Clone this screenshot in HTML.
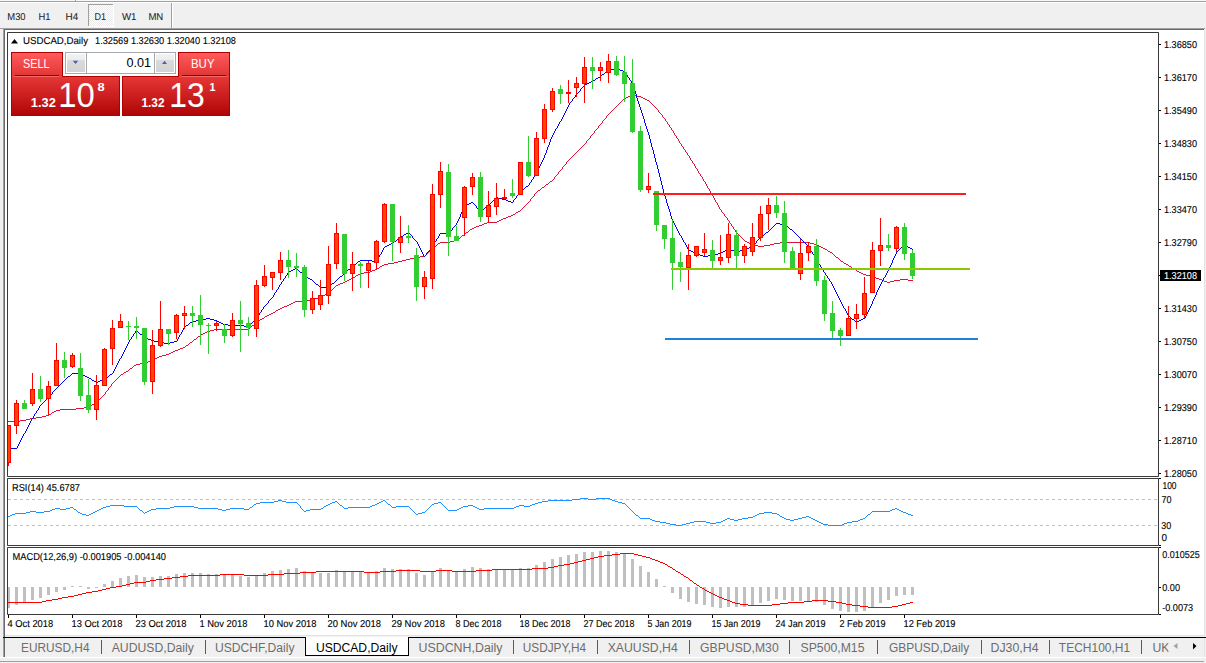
<!DOCTYPE html>
<html><head><meta charset="utf-8"><title>USDCAD,Daily</title>
<style>html,body{margin:0;padding:0;width:1206px;height:663px;overflow:hidden;background:#f0f0f0;font-family:"Liberation Sans",sans-serif;}
svg text{font-family:"Liberation Sans",sans-serif;}</style></head>
<body>
<svg width="1206" height="663" viewBox="0 0 1206 663" style="display:block;font-family:'Liberation Sans',sans-serif"><g shape-rendering="crispEdges">
<rect x="0" y="0" width="1206" height="663" fill="#f0f0f0"/>
<rect x="0" y="0" width="1206" height="1" fill="#f8f8f8"/>
<rect x="0" y="1" width="1206" height="1" fill="#a0a0a0"/>
<rect x="75" y="0" width="1" height="1" fill="#a0a0a0"/>
<rect x="0" y="2" width="1206" height="1" fill="#ffffff"/>
<rect x="88" y="4" width="26" height="23" fill="#ffffff"/>
<rect x="88" y="4" width="25" height="22" fill="#a0a0a0"/>
<defs><pattern id="dith" x="0" y="0" width="2" height="2" patternUnits="userSpaceOnUse"><rect width="2" height="2" fill="#ffffff"/><rect width="1" height="1" fill="#ebebeb"/><rect x="1" y="1" width="1" height="1" fill="#ebebeb"/></pattern></defs>
<rect x="89" y="5" width="24" height="21" fill="url(#dith)"/>
<rect x="171" y="3" width="1" height="25" fill="#a0a0a0"/>
<rect x="172" y="3" width="1" height="25" fill="#ffffff"/>
<rect x="0" y="28" width="1205" height="1" fill="#a0a0a0"/>
<rect x="3" y="28" width="1" height="629" fill="#a0a0a0"/>
<rect x="4" y="29" width="1200" height="1" fill="#696969"/>
<rect x="4" y="29" width="1" height="628" fill="#696969"/>
<rect x="5" y="30" width="1199" height="605" fill="#ffffff"/>
<rect x="1204" y="30" width="1" height="606" fill="#e3e3e3"/>
<rect x="5" y="635" width="1200" height="1" fill="#e3e3e3"/>
</g>
<text x="7.3" y="20" font-size="10" fill="#222222" text-rendering="geometricPrecision" stroke="#222222" stroke-width="0.05" textLength="18.3" lengthAdjust="spacingAndGlyphs">M30</text>
<text x="38.5" y="20" font-size="10" fill="#222222" text-rendering="geometricPrecision" stroke="#222222" stroke-width="0.05" textLength="12.0" lengthAdjust="spacingAndGlyphs">H1</text>
<text x="65.60000000000001" y="20" font-size="10" fill="#222222" text-rendering="geometricPrecision" stroke="#222222" stroke-width="0.05" textLength="12.7" lengthAdjust="spacingAndGlyphs">H4</text>
<text x="94.60000000000001" y="20" font-size="10" fill="#222222" text-rendering="geometricPrecision" stroke="#222222" stroke-width="0.05" textLength="11.5" lengthAdjust="spacingAndGlyphs">D1</text>
<text x="122.0" y="20" font-size="10" fill="#222222" text-rendering="geometricPrecision" stroke="#222222" stroke-width="0.05" textLength="14.5" lengthAdjust="spacingAndGlyphs">W1</text>
<text x="148.39999999999998" y="20" font-size="10" fill="#222222" text-rendering="geometricPrecision" stroke="#222222" stroke-width="0.05" textLength="14.9" lengthAdjust="spacingAndGlyphs">MN</text>
<path d="M7.5,32.5H1158.5V476.5H7.5Z" fill="none" stroke="#000" stroke-width="0.78" stroke-linejoin="bevel" shape-rendering="crispEdges"/>
<path d="M7.5,478.5H1158.5V545.5H7.5Z" fill="none" stroke="#000" stroke-width="0.78" stroke-linejoin="bevel" shape-rendering="crispEdges"/>
<path d="M7.5,547.5H1158.5V614.5H7.5Z" fill="none" stroke="#000" stroke-width="0.78" stroke-linejoin="bevel" shape-rendering="crispEdges"/>
<defs><clipPath id="cm"><rect x="8" y="33" width="1150" height="443"/></clipPath><clipPath id="cr"><rect x="8" y="479" width="1150" height="66"/></clipPath><clipPath id="cd"><rect x="8" y="548" width="1150" height="66"/></clipPath></defs>
<g clip-path="url(#cm)">
<path d="M631 95h5v1h-5zM628 96h3v1h-3zM636 96h5v1h-5zM626 97h2v1h-2zM641 97h2v1h-2zM624 98h2v1h-2zM643 98h2v1h-2zM623 99h1v1h-1zM645 99h2v1h-2zM622 100h1v1h-1zM647 100h2v1h-2zM621 101h1v1h-1zM649 101h1v1h-1zM620 102h1v1h-1zM650 102h1v1h-1zM619 103h1v1h-1zM651 103h1v1h-1zM618 104h1v1h-1zM652 104h1v1h-1zM617 105h1v1h-1zM653 105h1v1h-1zM616 106h1v1h-1zM654 106h1v1h-1zM615 107h1v1h-1zM655 107h1v1h-1zM614 108h1v1h-1zM656 108h1v1h-1zM613 109h1v1h-1zM657 109h1v1h-1zM612 110h1v1h-1zM658 110h1v1h-1zM611 111h1v1h-1zM658 111h1v1h-1zM610 112h1v1h-1zM659 112h1v1h-1zM609 113h1v1h-1zM660 113h1v1h-1zM608 114h1v1h-1zM661 114h1v1h-1zM607 115h1v1h-1zM662 115h1v1h-1zM606 116h1v1h-1zM662 116h1v1h-1zM606 117h1v1h-1zM663 117h1v1h-1zM605 118h1v1h-1zM664 118h1v1h-1zM604 119h1v1h-1zM665 119h1v1h-1zM603 120h1v1h-1zM665 120h1v1h-1zM602 121h1v1h-1zM666 121h1v1h-1zM602 122h1v1h-1zM667 122h1v1h-1zM601 123h1v1h-1zM667 123h1v1h-1zM600 124h1v1h-1zM668 124h1v1h-1zM599 125h1v1h-1zM669 125h1v1h-1zM598 126h1v1h-1zM669 126h1v1h-1zM598 127h1v1h-1zM670 127h1v1h-1zM597 128h1v1h-1zM671 128h1v1h-1zM596 129h1v1h-1zM671 129h1v1h-1zM595 130h1v1h-1zM672 130h1v1h-1zM594 131h1v1h-1zM673 131h1v1h-1zM594 132h1v1h-1zM673 132h1v1h-1zM593 133h1v1h-1zM674 133h1v1h-1zM592 134h1v1h-1zM674 134h1v1h-1zM591 135h1v1h-1zM675 135h1v1h-1zM590 136h1v1h-1zM676 136h1v1h-1zM590 137h1v1h-1zM676 137h1v1h-1zM589 138h1v1h-1zM677 138h1v1h-1zM588 139h1v1h-1zM678 139h1v1h-1zM587 140h1v1h-1zM678 140h1v1h-1zM586 141h1v1h-1zM679 141h1v1h-1zM586 142h1v1h-1zM679 142h1v1h-1zM585 143h1v1h-1zM680 143h1v1h-1zM584 144h1v1h-1zM681 144h1v1h-1zM583 145h1v1h-1zM681 145h1v1h-1zM582 146h1v1h-1zM682 146h1v1h-1zM581 147h1v1h-1zM683 147h1v1h-1zM580 148h1v1h-1zM683 148h1v1h-1zM579 149h1v1h-1zM684 149h1v1h-1zM578 150h1v1h-1zM685 150h1v1h-1zM577 151h1v1h-1zM685 151h1v1h-1zM576 152h1v1h-1zM686 152h1v1h-1zM575 153h1v1h-1zM687 153h1v1h-1zM574 154h1v1h-1zM687 154h1v1h-1zM573 155h1v1h-1zM688 155h1v1h-1zM572 156h1v1h-1zM689 156h1v1h-1zM571 157h1v1h-1zM689 157h1v1h-1zM570 158h1v1h-1zM690 158h1v1h-1zM569 159h1v1h-1zM690 159h1v1h-1zM568 160h1v1h-1zM691 160h1v1h-1zM567 161h1v1h-1zM692 161h1v1h-1zM566 162h1v1h-1zM692 162h1v1h-1zM566 163h1v1h-1zM693 163h1v1h-1zM565 164h1v1h-1zM694 164h1v1h-1zM564 165h1v1h-1zM694 165h1v1h-1zM563 166h1v1h-1zM695 166h1v1h-1zM562 167h1v1h-1zM695 167h1v1h-1zM562 168h1v1h-1zM696 168h1v1h-1zM561 169h1v1h-1zM697 169h1v1h-1zM560 170h1v1h-1zM697 170h1v1h-1zM559 171h1v1h-1zM698 171h1v1h-1zM558 172h1v1h-1zM698 172h1v1h-1zM558 173h1v1h-1zM699 173h1v1h-1zM557 174h1v1h-1zM700 174h1v1h-1zM556 175h1v1h-1zM700 175h1v1h-1zM555 176h1v1h-1zM701 176h1v1h-1zM554 177h1v1h-1zM702 177h1v1h-1zM554 178h1v1h-1zM702 178h1v1h-1zM553 179h1v1h-1zM703 179h1v1h-1zM552 180h1v1h-1zM703 180h1v1h-1zM550 181h2v1h-2zM704 181h1v1h-1zM549 182h1v1h-1zM705 182h1v1h-1zM548 183h1v1h-1zM705 183h1v1h-1zM546 184h2v1h-2zM706 184h1v1h-1zM545 185h1v1h-1zM706 185h1v1h-1zM544 186h1v1h-1zM707 186h1v1h-1zM542 187h2v1h-2zM707 187h1v1h-1zM541 188h1v1h-1zM708 188h1v1h-1zM540 189h1v1h-1zM709 189h1v1h-1zM538 190h2v1h-2zM709 190h1v1h-1zM537 191h1v1h-1zM710 191h1v1h-1zM536 192h1v1h-1zM710 192h1v1h-1zM535 193h1v1h-1zM711 193h1v1h-1zM534 194h1v1h-1zM711 194h1v1h-1zM534 195h1v1h-1zM712 195h1v1h-1zM533 196h1v1h-1zM713 196h1v1h-1zM532 197h1v1h-1zM713 197h1v1h-1zM531 198h1v1h-1zM714 198h1v1h-1zM530 199h1v1h-1zM714 199h1v1h-1zM530 200h1v1h-1zM715 200h1v1h-1zM529 201h1v1h-1zM715 201h1v1h-1zM528 202h1v1h-1zM716 202h1v1h-1zM527 203h1v1h-1zM717 203h1v1h-1zM526 204h1v1h-1zM717 204h1v1h-1zM525 205h1v1h-1zM718 205h1v1h-1zM524 206h1v1h-1zM718 206h1v1h-1zM523 207h1v1h-1zM719 207h1v1h-1zM522 208h1v1h-1zM719 208h1v1h-1zM521 209h1v1h-1zM720 209h1v1h-1zM520 210h1v1h-1zM721 210h1v1h-1zM518 211h2v1h-2zM721 211h1v1h-1zM516 212h2v1h-2zM722 212h1v1h-1zM515 213h1v1h-1zM723 213h1v1h-1zM513 214h2v1h-2zM724 214h1v1h-1zM511 215h2v1h-2zM724 215h1v1h-1zM508 216h3v1h-3zM725 216h1v1h-1zM506 217h2v1h-2zM726 217h1v1h-1zM503 218h3v1h-3zM727 218h1v1h-1zM501 219h2v1h-2zM727 219h1v1h-1zM499 220h2v1h-2zM728 220h1v1h-1zM497 221h2v1h-2zM729 221h1v1h-1zM487 222h10v1h-10zM729 222h1v1h-1zM484 223h3v1h-3zM730 223h1v1h-1zM482 224h2v1h-2zM731 224h1v1h-1zM479 225h3v1h-3zM731 225h1v1h-1zM476 226h3v1h-3zM732 226h1v1h-1zM474 227h2v1h-2zM733 227h1v1h-1zM472 228h2v1h-2zM733 228h1v1h-1zM470 229h2v1h-2zM734 229h1v1h-1zM469 230h1v1h-1zM735 230h1v1h-1zM468 231h1v1h-1zM735 231h1v1h-1zM466 232h2v1h-2zM736 232h1v1h-1zM465 233h1v1h-1zM737 233h1v1h-1zM464 234h1v1h-1zM738 234h1v1h-1zM462 235h2v1h-2zM739 235h1v1h-1zM461 236h1v1h-1zM740 236h1v1h-1zM460 237h1v1h-1zM741 237h1v1h-1zM458 238h2v1h-2zM742 238h1v1h-1zM457 239h1v1h-1zM743 239h1v1h-1zM454 240h3v1h-3zM744 240h1v1h-1zM450 241h4v1h-4zM745 241h2v1h-2zM440 242h10v1h-10zM747 242h2v1h-2zM780 242h30v1h-30zM438 243h2v1h-2zM749 243h2v1h-2zM774 243h6v1h-6zM810 243h4v1h-4zM437 244h1v1h-1zM751 244h3v1h-3zM770 244h4v1h-4zM814 244h3v1h-3zM436 245h1v1h-1zM754 245h4v1h-4zM764 245h6v1h-6zM817 245h2v1h-2zM434 246h2v1h-2zM758 246h6v1h-6zM819 246h2v1h-2zM433 247h1v1h-1zM821 247h2v1h-2zM432 248h1v1h-1zM823 248h2v1h-2zM431 249h1v1h-1zM825 249h2v1h-2zM430 250h1v1h-1zM827 250h1v1h-1zM429 251h1v1h-1zM828 251h2v1h-2zM428 252h1v1h-1zM830 252h2v1h-2zM427 253h1v1h-1zM832 253h1v1h-1zM426 254h1v1h-1zM833 254h1v1h-1zM425 255h1v1h-1zM834 255h1v1h-1zM420 256h5v1h-5zM835 256h1v1h-1zM414 257h6v1h-6zM836 257h2v1h-2zM410 258h4v1h-4zM838 258h1v1h-1zM406 259h4v1h-4zM839 259h1v1h-1zM402 260h4v1h-4zM840 260h1v1h-1zM398 261h4v1h-4zM841 261h2v1h-2zM394 262h4v1h-4zM843 262h1v1h-1zM388 263h6v1h-6zM844 263h2v1h-2zM384 264h4v1h-4zM846 264h2v1h-2zM382 265h2v1h-2zM848 265h1v1h-1zM380 266h2v1h-2zM849 266h2v1h-2zM379 267h1v1h-1zM851 267h1v1h-1zM377 268h2v1h-2zM852 268h2v1h-2zM375 269h2v1h-2zM854 269h2v1h-2zM372 270h3v1h-3zM856 270h1v1h-1zM370 271h2v1h-2zM857 271h2v1h-2zM364 272h6v1h-6zM859 272h2v1h-2zM360 273h4v1h-4zM861 273h2v1h-2zM358 274h2v1h-2zM863 274h3v1h-3zM356 275h2v1h-2zM866 275h4v1h-4zM355 276h1v1h-1zM870 276h4v1h-4zM353 277h2v1h-2zM874 277h2v1h-2zM351 278h2v1h-2zM876 278h3v1h-3zM349 279h2v1h-2zM879 279h3v1h-3zM900 279h8v1h-8zM347 280h2v1h-2zM882 280h2v1h-2zM894 280h6v1h-6zM908 280h5v1h-5zM345 281h2v1h-2zM884 281h3v1h-3zM890 281h4v1h-4zM343 282h2v1h-2zM887 282h3v1h-3zM340 283h3v1h-3zM338 284h2v1h-2zM336 285h2v1h-2zM335 286h1v1h-1zM334 287h1v1h-1zM333 288h1v1h-1zM332 289h1v1h-1zM331 290h1v1h-1zM330 291h1v1h-1zM329 292h1v1h-1zM327 293h2v1h-2zM325 294h2v1h-2zM323 295h2v1h-2zM321 296h2v1h-2zM318 297h3v1h-3zM314 298h4v1h-4zM310 299h4v1h-4zM306 300h4v1h-4zM295 301h11v1h-11zM293 302h2v1h-2zM291 303h2v1h-2zM289 304h2v1h-2zM287 305h2v1h-2zM284 306h3v1h-3zM282 307h2v1h-2zM280 308h2v1h-2zM278 309h2v1h-2zM276 310h2v1h-2zM275 311h1v1h-1zM273 312h2v1h-2zM271 313h2v1h-2zM269 314h2v1h-2zM267 315h2v1h-2zM265 316h2v1h-2zM264 317h1v1h-1zM262 318h2v1h-2zM260 319h2v1h-2zM259 320h1v1h-1zM257 321h2v1h-2zM256 322h1v1h-1zM255 323h1v1h-1zM254 324h1v1h-1zM252 325h2v1h-2zM251 326h1v1h-1zM250 327h1v1h-1zM249 328h1v1h-1zM214 329h35v1h-35zM210 330h4v1h-4zM207 331h3v1h-3zM205 332h2v1h-2zM203 333h2v1h-2zM201 334h2v1h-2zM200 335h1v1h-1zM198 336h2v1h-2zM197 337h1v1h-1zM196 338h1v1h-1zM194 339h2v1h-2zM193 340h1v1h-1zM192 341h1v1h-1zM190 342h2v1h-2zM189 343h1v1h-1zM188 344h1v1h-1zM186 345h2v1h-2zM185 346h1v1h-1zM183 347h2v1h-2zM180 348h3v1h-3zM178 349h2v1h-2zM175 350h3v1h-3zM173 351h2v1h-2zM171 352h2v1h-2zM169 353h2v1h-2zM166 354h3v1h-3zM162 355h4v1h-4zM159 356h3v1h-3zM157 357h2v1h-2zM155 358h2v1h-2zM153 359h2v1h-2zM151 360h2v1h-2zM148 361h3v1h-3zM146 362h2v1h-2zM140 363h6v1h-6zM136 364h4v1h-4zM134 365h2v1h-2zM133 366h1v1h-1zM132 367h1v1h-1zM130 368h2v1h-2zM129 369h1v1h-1zM128 370h1v1h-1zM126 371h2v1h-2zM124 372h2v1h-2zM123 373h1v1h-1zM121 374h2v1h-2zM120 375h1v1h-1zM119 376h1v1h-1zM118 377h1v1h-1zM117 378h1v1h-1zM116 379h1v1h-1zM115 380h1v1h-1zM114 381h1v1h-1zM113 382h1v1h-1zM112 383h1v1h-1zM111 384h1v1h-1zM111 385h1v1h-1zM110 386h1v1h-1zM109 387h1v1h-1zM108 388h1v1h-1zM108 389h1v1h-1zM107 390h1v1h-1zM106 391h1v1h-1zM105 392h1v1h-1zM105 393h1v1h-1zM104 394h1v1h-1zM103 395h1v1h-1zM102 396h1v1h-1zM101 397h1v1h-1zM100 398h1v1h-1zM99 399h1v1h-1zM98 400h1v1h-1zM97 401h1v1h-1zM96 402h1v1h-1zM94 403h2v1h-2zM92 404h2v1h-2zM91 405h1v1h-1zM89 406h2v1h-2zM84 407h5v1h-5zM76 408h8v1h-8zM60 409h16v1h-16zM56 410h4v1h-4zM54 411h2v1h-2zM52 412h2v1h-2zM51 413h1v1h-1zM49 414h2v1h-2zM46 415h3v1h-3zM42 416h4v1h-4zM36 417h6v1h-6zM30 418h6v1h-6zM26 419h4v1h-4zM20 420h6v1h-6zM0 421h20v1h-20z" fill="#dc143c" shape-rendering="crispEdges"/>
<path d="M614 68h4v1h-4zM610 69h4v1h-4zM618 69h2v1h-2zM608 70h2v1h-2zM620 70h3v1h-3zM606 71h2v1h-2zM623 71h2v1h-2zM605 72h1v1h-1zM625 72h1v1h-1zM604 73h1v1h-1zM625 73h1v1h-1zM602 74h2v1h-2zM626 74h1v1h-1zM601 75h1v1h-1zM627 75h1v1h-1zM600 76h1v1h-1zM627 76h1v1h-1zM598 77h2v1h-2zM628 77h1v1h-1zM596 78h2v1h-2zM629 78h1v1h-1zM595 79h1v1h-1zM629 79h1v1h-1zM593 80h2v1h-2zM630 80h1v1h-1zM591 81h2v1h-2zM631 81h1v1h-1zM589 82h2v1h-2zM631 82h1v1h-1zM587 83h2v1h-2zM632 83h1v1h-1zM585 84h2v1h-2zM632 84h1v1h-1zM584 85h1v1h-1zM633 85h1v1h-1zM583 86h1v1h-1zM633 86h1v1h-1zM582 87h1v1h-1zM633 87h1v1h-1zM581 88h1v1h-1zM634 88h1v1h-1zM580 89h1v1h-1zM634 89h1v1h-1zM580 90h1v1h-1zM634 90h1v1h-1zM579 91h1v1h-1zM635 91h1v1h-1zM578 92h1v1h-1zM635 92h1v1h-1zM577 93h1v1h-1zM635 93h1v1h-1zM576 94h1v1h-1zM636 94h1v1h-1zM575 95h1v1h-1zM636 95h1v1h-1zM575 96h1v1h-1zM636 96h1v1h-1zM574 97h1v1h-1zM636 97h1v1h-1zM573 98h1v1h-1zM637 98h1v1h-1zM572 99h1v1h-1zM637 99h1v1h-1zM572 100h1v1h-1zM637 100h1v1h-1zM571 101h1v1h-1zM638 101h1v1h-1zM570 102h1v1h-1zM638 102h1v1h-1zM569 103h1v1h-1zM638 103h1v1h-1zM569 104h1v1h-1zM639 104h1v1h-1zM568 105h1v1h-1zM639 105h1v1h-1zM568 106h1v1h-1zM639 106h1v1h-1zM567 107h1v1h-1zM640 107h1v1h-1zM567 108h1v1h-1zM640 108h1v1h-1zM566 109h1v1h-1zM640 109h1v1h-1zM566 110h1v1h-1zM641 110h1v1h-1zM565 111h1v1h-1zM641 111h1v1h-1zM565 112h1v1h-1zM641 112h1v1h-1zM564 113h1v1h-1zM642 113h1v1h-1zM564 114h1v1h-1zM642 114h1v1h-1zM563 115h1v1h-1zM642 115h1v1h-1zM563 116h1v1h-1zM643 116h1v1h-1zM562 117h1v1h-1zM643 117h1v1h-1zM562 118h1v1h-1zM643 118h1v1h-1zM561 119h1v1h-1zM644 119h1v1h-1zM561 120h1v1h-1zM644 120h1v1h-1zM560 121h1v1h-1zM644 121h1v1h-1zM559 122h1v1h-1zM644 122h1v1h-1zM559 123h1v1h-1zM645 123h1v1h-1zM558 124h1v1h-1zM645 124h1v1h-1zM558 125h1v1h-1zM645 125h1v1h-1zM557 126h1v1h-1zM646 126h1v1h-1zM557 127h1v1h-1zM646 127h1v1h-1zM556 128h1v1h-1zM646 128h1v1h-1zM555 129h1v1h-1zM647 129h1v1h-1zM555 130h1v1h-1zM647 130h1v1h-1zM554 131h1v1h-1zM647 131h1v1h-1zM554 132h1v1h-1zM648 132h1v1h-1zM553 133h1v1h-1zM648 133h1v1h-1zM553 134h1v1h-1zM648 134h1v1h-1zM552 135h1v1h-1zM649 135h1v1h-1zM552 136h1v1h-1zM649 136h1v1h-1zM551 137h1v1h-1zM649 137h1v1h-1zM551 138h1v1h-1zM649 138h1v1h-1zM550 139h1v1h-1zM650 139h1v1h-1zM550 140h1v1h-1zM650 140h1v1h-1zM550 141h1v1h-1zM650 141h1v1h-1zM549 142h1v1h-1zM650 142h1v1h-1zM549 143h1v1h-1zM651 143h1v1h-1zM549 144h1v1h-1zM651 144h1v1h-1zM548 145h1v1h-1zM651 145h1v1h-1zM548 146h1v1h-1zM651 146h1v1h-1zM547 147h1v1h-1zM652 147h1v1h-1zM547 148h1v1h-1zM652 148h1v1h-1zM547 149h1v1h-1zM652 149h1v1h-1zM546 150h1v1h-1zM653 150h1v1h-1zM546 151h1v1h-1zM653 151h1v1h-1zM546 152h1v1h-1zM653 152h1v1h-1zM545 153h1v1h-1zM653 153h1v1h-1zM545 154h1v1h-1zM654 154h1v1h-1zM544 155h1v1h-1zM654 155h1v1h-1zM544 156h1v1h-1zM654 156h1v1h-1zM544 157h1v1h-1zM654 157h1v1h-1zM543 158h1v1h-1zM655 158h1v1h-1zM543 159h1v1h-1zM655 159h1v1h-1zM542 160h1v1h-1zM655 160h1v1h-1zM542 161h1v1h-1zM655 161h1v1h-1zM541 162h1v1h-1zM656 162h1v1h-1zM541 163h1v1h-1zM656 163h1v1h-1zM540 164h1v1h-1zM656 164h1v1h-1zM540 165h1v1h-1zM657 165h1v1h-1zM539 166h1v1h-1zM657 166h1v1h-1zM539 167h1v1h-1zM657 167h1v1h-1zM538 168h1v1h-1zM657 168h1v1h-1zM538 169h1v1h-1zM658 169h1v1h-1zM537 170h1v1h-1zM658 170h1v1h-1zM537 171h1v1h-1zM658 171h1v1h-1zM536 172h1v1h-1zM658 172h1v1h-1zM536 173h1v1h-1zM659 173h1v1h-1zM535 174h1v1h-1zM659 174h1v1h-1zM535 175h1v1h-1zM659 175h1v1h-1zM534 176h1v1h-1zM659 176h1v1h-1zM533 177h1v1h-1zM660 177h1v1h-1zM533 178h1v1h-1zM660 178h1v1h-1zM532 179h1v1h-1zM660 179h1v1h-1zM531 180h1v1h-1zM660 180h1v1h-1zM531 181h1v1h-1zM661 181h1v1h-1zM530 182h1v1h-1zM661 182h1v1h-1zM529 183h1v1h-1zM661 183h1v1h-1zM529 184h1v1h-1zM661 184h1v1h-1zM528 185h1v1h-1zM662 185h1v1h-1zM526 186h2v1h-2zM662 186h1v1h-1zM525 187h1v1h-1zM662 187h1v1h-1zM524 188h1v1h-1zM662 188h1v1h-1zM522 189h2v1h-2zM663 189h1v1h-1zM521 190h1v1h-1zM663 190h1v1h-1zM520 191h1v1h-1zM663 191h1v1h-1zM519 192h1v1h-1zM663 192h1v1h-1zM519 193h1v1h-1zM664 193h1v1h-1zM518 194h1v1h-1zM664 194h1v1h-1zM517 195h1v1h-1zM664 195h1v1h-1zM516 196h1v1h-1zM665 196h1v1h-1zM496 197h2v1h-2zM516 197h1v1h-1zM665 197h1v1h-1zM495 198h1v1h-1zM498 198h4v1h-4zM515 198h1v1h-1zM665 198h1v1h-1zM494 199h1v1h-1zM502 199h4v1h-4zM514 199h1v1h-1zM666 199h1v1h-1zM493 200h1v1h-1zM506 200h2v1h-2zM513 200h1v1h-1zM666 200h1v1h-1zM492 201h1v1h-1zM508 201h3v1h-3zM513 201h1v1h-1zM666 201h1v1h-1zM471 202h2v1h-2zM491 202h1v1h-1zM511 202h2v1h-2zM666 202h1v1h-1zM469 203h2v1h-2zM473 203h1v1h-1zM490 203h1v1h-1zM667 203h1v1h-1zM467 204h2v1h-2zM474 204h1v1h-1zM489 204h1v1h-1zM667 204h1v1h-1zM465 205h2v1h-2zM475 205h1v1h-1zM488 205h1v1h-1zM667 205h1v1h-1zM464 206h1v1h-1zM476 206h1v1h-1zM486 206h2v1h-2zM668 206h1v1h-1zM464 207h1v1h-1zM476 207h1v1h-1zM485 207h1v1h-1zM668 207h1v1h-1zM463 208h1v1h-1zM477 208h1v1h-1zM484 208h1v1h-1zM668 208h1v1h-1zM463 209h1v1h-1zM478 209h1v1h-1zM482 209h2v1h-2zM669 209h1v1h-1zM462 210h1v1h-1zM479 210h1v1h-1zM481 210h1v1h-1zM669 210h1v1h-1zM462 211h1v1h-1zM480 211h1v1h-1zM669 211h1v1h-1zM461 212h1v1h-1zM670 212h1v1h-1zM461 213h1v1h-1zM670 213h1v1h-1zM460 214h1v1h-1zM670 214h1v1h-1zM460 215h1v1h-1zM670 215h1v1h-1zM460 216h1v1h-1zM671 216h1v1h-1zM459 217h1v1h-1zM671 217h1v1h-1zM459 218h1v1h-1zM671 218h1v1h-1zM458 219h1v1h-1zM672 219h1v1h-1zM458 220h1v1h-1zM672 220h1v1h-1zM457 221h1v1h-1zM673 221h1v1h-1zM457 222h1v1h-1zM673 222h1v1h-1zM456 223h1v1h-1zM674 223h1v1h-1zM776 223h4v1h-4zM456 224h1v1h-1zM674 224h1v1h-1zM775 224h1v1h-1zM780 224h5v1h-5zM455 225h1v1h-1zM675 225h1v1h-1zM774 225h1v1h-1zM785 225h1v1h-1zM454 226h1v1h-1zM675 226h1v1h-1zM773 226h1v1h-1zM786 226h2v1h-2zM453 227h1v1h-1zM676 227h1v1h-1zM772 227h1v1h-1zM788 227h1v1h-1zM452 228h1v1h-1zM676 228h1v1h-1zM771 228h1v1h-1zM789 228h1v1h-1zM452 229h1v1h-1zM677 229h1v1h-1zM770 229h1v1h-1zM790 229h2v1h-2zM451 230h1v1h-1zM677 230h1v1h-1zM769 230h1v1h-1zM792 230h1v1h-1zM450 231h1v1h-1zM678 231h1v1h-1zM768 231h1v1h-1zM793 231h1v1h-1zM408 232h1v1h-1zM449 232h1v1h-1zM678 232h1v1h-1zM766 232h2v1h-2zM794 232h1v1h-1zM406 233h2v1h-2zM409 233h1v1h-1zM440 233h9v1h-9zM679 233h1v1h-1zM765 233h1v1h-1zM795 233h1v1h-1zM404 234h2v1h-2zM410 234h1v1h-1zM439 234h1v1h-1zM679 234h1v1h-1zM764 234h1v1h-1zM796 234h1v1h-1zM403 235h1v1h-1zM411 235h1v1h-1zM439 235h1v1h-1zM680 235h1v1h-1zM762 235h2v1h-2zM797 235h1v1h-1zM401 236h2v1h-2zM412 236h1v1h-1zM438 236h1v1h-1zM681 236h1v1h-1zM761 236h1v1h-1zM798 236h1v1h-1zM400 237h1v1h-1zM412 237h1v1h-1zM438 237h1v1h-1zM681 237h1v1h-1zM760 237h1v1h-1zM799 237h1v1h-1zM398 238h2v1h-2zM413 238h1v1h-1zM437 238h1v1h-1zM682 238h1v1h-1zM759 238h1v1h-1zM800 238h1v1h-1zM397 239h1v1h-1zM414 239h1v1h-1zM436 239h1v1h-1zM682 239h1v1h-1zM758 239h1v1h-1zM801 239h1v1h-1zM396 240h1v1h-1zM415 240h1v1h-1zM436 240h1v1h-1zM683 240h1v1h-1zM757 240h1v1h-1zM802 240h1v1h-1zM394 241h2v1h-2zM416 241h1v1h-1zM435 241h1v1h-1zM683 241h1v1h-1zM756 241h1v1h-1zM803 241h1v1h-1zM393 242h1v1h-1zM417 242h1v1h-1zM434 242h1v1h-1zM684 242h1v1h-1zM756 242h1v1h-1zM804 242h1v1h-1zM391 243h2v1h-2zM417 243h1v1h-1zM434 243h1v1h-1zM685 243h1v1h-1zM755 243h1v1h-1zM805 243h1v1h-1zM389 244h2v1h-2zM418 244h1v1h-1zM433 244h1v1h-1zM685 244h1v1h-1zM754 244h1v1h-1zM806 244h1v1h-1zM904 244h1v1h-1zM387 245h2v1h-2zM418 245h1v1h-1zM433 245h1v1h-1zM686 245h1v1h-1zM753 245h1v1h-1zM807 245h1v1h-1zM903 245h1v1h-1zM905 245h2v1h-2zM385 246h2v1h-2zM419 246h1v1h-1zM432 246h1v1h-1zM686 246h1v1h-1zM751 246h2v1h-2zM808 246h1v1h-1zM902 246h1v1h-1zM907 246h1v1h-1zM384 247h1v1h-1zM419 247h1v1h-1zM431 247h1v1h-1zM687 247h1v1h-1zM749 247h2v1h-2zM809 247h1v1h-1zM901 247h1v1h-1zM908 247h2v1h-2zM383 248h1v1h-1zM420 248h1v1h-1zM430 248h1v1h-1zM687 248h1v1h-1zM747 248h2v1h-2zM809 248h1v1h-1zM900 248h1v1h-1zM910 248h2v1h-2zM383 249h1v1h-1zM420 249h1v1h-1zM430 249h1v1h-1zM688 249h1v1h-1zM727 249h3v1h-3zM745 249h2v1h-2zM810 249h1v1h-1zM899 249h1v1h-1zM912 249h1v1h-1zM382 250h1v1h-1zM421 250h1v1h-1zM429 250h1v1h-1zM689 250h2v1h-2zM725 250h2v1h-2zM730 250h4v1h-4zM740 250h5v1h-5zM810 250h1v1h-1zM898 250h1v1h-1zM382 251h1v1h-1zM421 251h1v1h-1zM428 251h1v1h-1zM691 251h2v1h-2zM723 251h2v1h-2zM734 251h6v1h-6zM811 251h1v1h-1zM897 251h1v1h-1zM381 252h1v1h-1zM422 252h1v1h-1zM427 252h1v1h-1zM693 252h2v1h-2zM721 252h2v1h-2zM812 252h1v1h-1zM896 252h1v1h-1zM381 253h1v1h-1zM422 253h1v1h-1zM426 253h1v1h-1zM695 253h3v1h-3zM718 253h3v1h-3zM812 253h1v1h-1zM896 253h1v1h-1zM380 254h1v1h-1zM423 254h1v1h-1zM426 254h1v1h-1zM698 254h2v1h-2zM714 254h4v1h-4zM813 254h1v1h-1zM895 254h1v1h-1zM379 255h1v1h-1zM423 255h1v1h-1zM425 255h1v1h-1zM700 255h3v1h-3zM708 255h6v1h-6zM814 255h1v1h-1zM895 255h1v1h-1zM379 256h1v1h-1zM424 256h1v1h-1zM703 256h5v1h-5zM814 256h1v1h-1zM894 256h1v1h-1zM378 257h1v1h-1zM815 257h1v1h-1zM894 257h1v1h-1zM378 258h1v1h-1zM815 258h1v1h-1zM893 258h1v1h-1zM377 259h1v1h-1zM816 259h1v1h-1zM893 259h1v1h-1zM360 260h12v1h-12zM377 260h1v1h-1zM817 260h1v1h-1zM892 260h1v1h-1zM358 261h2v1h-2zM372 261h5v1h-5zM817 261h1v1h-1zM892 261h1v1h-1zM357 262h1v1h-1zM818 262h1v1h-1zM892 262h1v1h-1zM356 263h1v1h-1zM818 263h1v1h-1zM891 263h1v1h-1zM354 264h2v1h-2zM819 264h1v1h-1zM891 264h1v1h-1zM353 265h1v1h-1zM820 265h1v1h-1zM890 265h1v1h-1zM352 266h1v1h-1zM820 266h1v1h-1zM890 266h1v1h-1zM351 267h1v1h-1zM821 267h1v1h-1zM889 267h1v1h-1zM295 268h2v1h-2zM350 268h1v1h-1zM822 268h1v1h-1zM889 268h1v1h-1zM293 269h2v1h-2zM297 269h1v1h-1zM348 269h2v1h-2zM822 269h1v1h-1zM888 269h1v1h-1zM291 270h2v1h-2zM298 270h1v1h-1zM347 270h1v1h-1zM823 270h1v1h-1zM888 270h1v1h-1zM289 271h2v1h-2zM299 271h1v1h-1zM346 271h1v1h-1zM823 271h1v1h-1zM887 271h1v1h-1zM288 272h1v1h-1zM300 272h2v1h-2zM345 272h1v1h-1zM824 272h1v1h-1zM887 272h1v1h-1zM287 273h1v1h-1zM302 273h1v1h-1zM344 273h1v1h-1zM825 273h1v1h-1zM886 273h1v1h-1zM287 274h1v1h-1zM303 274h1v1h-1zM343 274h1v1h-1zM825 274h1v1h-1zM886 274h1v1h-1zM286 275h1v1h-1zM304 275h1v1h-1zM342 275h1v1h-1zM826 275h1v1h-1zM885 275h1v1h-1zM285 276h1v1h-1zM305 276h2v1h-2zM340 276h2v1h-2zM827 276h1v1h-1zM885 276h1v1h-1zM285 277h1v1h-1zM307 277h1v1h-1zM339 277h1v1h-1zM827 277h1v1h-1zM884 277h1v1h-1zM284 278h1v1h-1zM308 278h2v1h-2zM338 278h1v1h-1zM828 278h1v1h-1zM883 278h1v1h-1zM283 279h1v1h-1zM310 279h2v1h-2zM337 279h1v1h-1zM829 279h1v1h-1zM883 279h1v1h-1zM283 280h1v1h-1zM312 280h1v1h-1zM336 280h1v1h-1zM829 280h1v1h-1zM882 280h1v1h-1zM282 281h1v1h-1zM313 281h1v1h-1zM335 281h1v1h-1zM830 281h1v1h-1zM882 281h1v1h-1zM281 282h1v1h-1zM314 282h1v1h-1zM334 282h1v1h-1zM831 282h1v1h-1zM881 282h1v1h-1zM281 283h1v1h-1zM315 283h1v1h-1zM332 283h2v1h-2zM831 283h1v1h-1zM881 283h1v1h-1zM280 284h1v1h-1zM316 284h2v1h-2zM331 284h1v1h-1zM832 284h1v1h-1zM880 284h1v1h-1zM279 285h1v1h-1zM318 285h1v1h-1zM330 285h1v1h-1zM832 285h1v1h-1zM880 285h1v1h-1zM279 286h1v1h-1zM319 286h1v1h-1zM329 286h1v1h-1zM833 286h1v1h-1zM879 286h1v1h-1zM278 287h1v1h-1zM320 287h9v1h-9zM833 287h1v1h-1zM879 287h1v1h-1zM278 288h1v1h-1zM834 288h1v1h-1zM878 288h1v1h-1zM277 289h1v1h-1zM834 289h1v1h-1zM878 289h1v1h-1zM276 290h1v1h-1zM835 290h1v1h-1zM877 290h1v1h-1zM276 291h1v1h-1zM835 291h1v1h-1zM877 291h1v1h-1zM275 292h1v1h-1zM836 292h1v1h-1zM876 292h1v1h-1zM274 293h1v1h-1zM836 293h1v1h-1zM876 293h1v1h-1zM274 294h1v1h-1zM837 294h1v1h-1zM876 294h1v1h-1zM273 295h1v1h-1zM837 295h1v1h-1zM875 295h1v1h-1zM273 296h1v1h-1zM838 296h1v1h-1zM875 296h1v1h-1zM272 297h1v1h-1zM838 297h1v1h-1zM874 297h1v1h-1zM271 298h1v1h-1zM839 298h1v1h-1zM874 298h1v1h-1zM270 299h1v1h-1zM839 299h1v1h-1zM873 299h1v1h-1zM269 300h1v1h-1zM840 300h1v1h-1zM873 300h1v1h-1zM268 301h1v1h-1zM840 301h1v1h-1zM872 301h1v1h-1zM268 302h1v1h-1zM841 302h1v1h-1zM872 302h1v1h-1zM267 303h1v1h-1zM841 303h1v1h-1zM872 303h1v1h-1zM266 304h1v1h-1zM842 304h1v1h-1zM871 304h1v1h-1zM265 305h1v1h-1zM842 305h1v1h-1zM871 305h1v1h-1zM264 306h1v1h-1zM843 306h1v1h-1zM870 306h1v1h-1zM263 307h1v1h-1zM843 307h1v1h-1zM870 307h1v1h-1zM263 308h1v1h-1zM844 308h1v1h-1zM869 308h1v1h-1zM262 309h1v1h-1zM845 309h1v1h-1zM869 309h1v1h-1zM261 310h1v1h-1zM845 310h1v1h-1zM868 310h1v1h-1zM261 311h1v1h-1zM846 311h1v1h-1zM868 311h1v1h-1zM260 312h1v1h-1zM846 312h1v1h-1zM867 312h1v1h-1zM259 313h1v1h-1zM847 313h1v1h-1zM867 313h1v1h-1zM259 314h1v1h-1zM847 314h1v1h-1zM866 314h1v1h-1zM258 315h1v1h-1zM848 315h1v1h-1zM866 315h1v1h-1zM257 316h1v1h-1zM849 316h1v1h-1zM865 316h1v1h-1zM257 317h1v1h-1zM850 317h1v1h-1zM865 317h1v1h-1zM206 318h4v1h-4zM256 318h1v1h-1zM851 318h1v1h-1zM863 318h2v1h-2zM202 319h4v1h-4zM210 319h4v1h-4zM255 319h1v1h-1zM852 319h2v1h-2zM861 319h2v1h-2zM196 320h6v1h-6zM214 320h3v1h-3zM254 320h1v1h-1zM854 320h1v1h-1zM859 320h2v1h-2zM192 321h4v1h-4zM217 321h2v1h-2zM253 321h1v1h-1zM855 321h1v1h-1zM857 321h2v1h-2zM190 322h2v1h-2zM219 322h2v1h-2zM252 322h1v1h-1zM856 322h1v1h-1zM189 323h1v1h-1zM221 323h2v1h-2zM251 323h1v1h-1zM188 324h1v1h-1zM223 324h5v1h-5zM250 324h1v1h-1zM186 325h2v1h-2zM228 325h16v1h-16zM249 325h1v1h-1zM185 326h1v1h-1zM244 326h5v1h-5zM184 327h1v1h-1zM183 328h1v1h-1zM183 329h1v1h-1zM136 330h1v1h-1zM182 330h1v1h-1zM135 331h1v1h-1zM137 331h1v1h-1zM182 331h1v1h-1zM135 332h1v1h-1zM138 332h1v1h-1zM181 332h1v1h-1zM134 333h1v1h-1zM139 333h1v1h-1zM181 333h1v1h-1zM133 334h1v1h-1zM140 334h2v1h-2zM180 334h1v1h-1zM133 335h1v1h-1zM142 335h1v1h-1zM179 335h1v1h-1zM132 336h1v1h-1zM143 336h1v1h-1zM179 336h1v1h-1zM131 337h1v1h-1zM144 337h2v1h-2zM178 337h1v1h-1zM131 338h1v1h-1zM146 338h2v1h-2zM178 338h1v1h-1zM130 339h1v1h-1zM148 339h3v1h-3zM177 339h1v1h-1zM129 340h1v1h-1zM151 340h3v1h-3zM177 340h1v1h-1zM129 341h1v1h-1zM154 341h4v1h-4zM174 341h3v1h-3zM128 342h1v1h-1zM158 342h6v1h-6zM170 342h4v1h-4zM128 343h1v1h-1zM164 343h6v1h-6zM127 344h1v1h-1zM127 345h1v1h-1zM126 346h1v1h-1zM126 347h1v1h-1zM125 348h1v1h-1zM125 349h1v1h-1zM124 350h1v1h-1zM124 351h1v1h-1zM123 352h1v1h-1zM123 353h1v1h-1zM122 354h1v1h-1zM122 355h1v1h-1zM121 356h1v1h-1zM121 357h1v1h-1zM120 358h1v1h-1zM119 359h1v1h-1zM119 360h1v1h-1zM118 361h1v1h-1zM118 362h1v1h-1zM117 363h1v1h-1zM117 364h1v1h-1zM116 365h1v1h-1zM116 366h1v1h-1zM115 367h1v1h-1zM115 368h1v1h-1zM114 369h1v1h-1zM114 370h1v1h-1zM113 371h1v1h-1zM113 372h1v1h-1zM72 373h9v1h-9zM112 373h1v1h-1zM71 374h1v1h-1zM81 374h2v1h-2zM110 374h2v1h-2zM70 375h1v1h-1zM83 375h2v1h-2zM109 375h1v1h-1zM68 376h2v1h-2zM85 376h2v1h-2zM108 376h1v1h-1zM67 377h1v1h-1zM87 377h2v1h-2zM106 377h2v1h-2zM66 378h1v1h-1zM89 378h2v1h-2zM105 378h1v1h-1zM65 379h1v1h-1zM91 379h1v1h-1zM103 379h2v1h-2zM64 380h1v1h-1zM92 380h2v1h-2zM100 380h3v1h-3zM63 381h1v1h-1zM94 381h2v1h-2zM98 381h2v1h-2zM62 382h1v1h-1zM96 382h2v1h-2zM61 383h1v1h-1zM60 384h1v1h-1zM59 385h1v1h-1zM58 386h1v1h-1zM57 387h1v1h-1zM56 388h1v1h-1zM55 389h1v1h-1zM54 390h1v1h-1zM53 391h1v1h-1zM52 392h1v1h-1zM52 393h1v1h-1zM51 394h1v1h-1zM50 395h1v1h-1zM49 396h1v1h-1zM48 397h1v1h-1zM47 398h1v1h-1zM46 399h1v1h-1zM45 400h1v1h-1zM44 401h1v1h-1zM43 402h1v1h-1zM42 403h1v1h-1zM41 404h1v1h-1zM40 405h1v1h-1zM39 406h1v1h-1zM39 407h1v1h-1zM38 408h1v1h-1zM38 409h1v1h-1zM37 410h1v1h-1zM36 411h1v1h-1zM36 412h1v1h-1zM35 413h1v1h-1zM34 414h1v1h-1zM34 415h1v1h-1zM33 416h1v1h-1zM33 417h1v1h-1zM32 418h1v1h-1zM31 419h1v1h-1zM31 420h1v1h-1zM30 421h1v1h-1zM30 422h1v1h-1zM29 423h1v1h-1zM29 424h1v1h-1zM28 425h1v1h-1zM28 426h1v1h-1zM27 427h1v1h-1zM27 428h1v1h-1zM26 429h1v1h-1zM26 430h1v1h-1zM25 431h1v1h-1zM25 432h1v1h-1zM24 433h1v1h-1zM23 434h1v1h-1zM23 435h1v1h-1zM22 436h1v1h-1zM22 437h1v1h-1zM21 438h1v1h-1zM21 439h1v1h-1zM20 440h1v1h-1zM20 441h1v1h-1zM19 442h1v1h-1zM19 443h1v1h-1zM18 444h1v1h-1zM18 445h1v1h-1zM17 446h1v1h-1zM17 447h1v1h-1zM0 448h17v1h-17z" fill="#0000ff" shape-rendering="crispEdges"/>
<g shape-rendering="crispEdges">
<rect x="8" y="425" width="1" height="41" fill="#ff0000"/>
<rect x="6" y="425" width="5" height="38" fill="#ff0000"/>
<rect x="7" y="426" width="3" height="36" fill="#ff4500"/>
<rect x="16" y="400" width="1" height="34" fill="#ff0000"/>
<rect x="14" y="403" width="5" height="23" fill="#ff0000"/>
<rect x="15" y="404" width="3" height="21" fill="#ff4500"/>
<rect x="24" y="400" width="1" height="9" fill="#32cd32"/>
<rect x="22" y="403" width="5" height="6" fill="#32cd32"/>
<rect x="32" y="373" width="1" height="33" fill="#ff0000"/>
<rect x="30" y="389" width="5" height="15" fill="#ff0000"/>
<rect x="31" y="390" width="3" height="13" fill="#ff4500"/>
<rect x="40" y="376" width="1" height="26" fill="#32cd32"/>
<rect x="38" y="389" width="5" height="10" fill="#32cd32"/>
<rect x="48" y="381" width="1" height="34" fill="#ff0000"/>
<rect x="46" y="386" width="5" height="13" fill="#ff0000"/>
<rect x="47" y="387" width="3" height="11" fill="#ff4500"/>
<rect x="56" y="343" width="1" height="43" fill="#ff0000"/>
<rect x="54" y="360" width="5" height="26" fill="#ff0000"/>
<rect x="55" y="361" width="3" height="24" fill="#ff4500"/>
<rect x="64" y="352" width="1" height="26" fill="#32cd32"/>
<rect x="62" y="360" width="5" height="8" fill="#32cd32"/>
<rect x="72" y="353" width="1" height="15" fill="#ff0000"/>
<rect x="70" y="355" width="5" height="12" fill="#ff0000"/>
<rect x="71" y="356" width="3" height="10" fill="#ff4500"/>
<rect x="80" y="353" width="1" height="48" fill="#32cd32"/>
<rect x="78" y="368" width="5" height="28" fill="#32cd32"/>
<rect x="88" y="379" width="1" height="34" fill="#32cd32"/>
<rect x="86" y="395" width="5" height="15" fill="#32cd32"/>
<rect x="96" y="375" width="1" height="45" fill="#ff0000"/>
<rect x="94" y="385" width="5" height="25" fill="#ff0000"/>
<rect x="95" y="386" width="3" height="23" fill="#ff4500"/>
<rect x="104" y="348" width="1" height="38" fill="#ff0000"/>
<rect x="102" y="349" width="5" height="37" fill="#ff0000"/>
<rect x="103" y="350" width="3" height="35" fill="#ff4500"/>
<rect x="112" y="320" width="1" height="45" fill="#ff0000"/>
<rect x="110" y="328" width="5" height="21" fill="#ff0000"/>
<rect x="111" y="329" width="3" height="19" fill="#ff4500"/>
<rect x="120" y="314" width="1" height="14" fill="#ff0000"/>
<rect x="118" y="321" width="5" height="7" fill="#ff0000"/>
<rect x="119" y="322" width="3" height="5" fill="#ff4500"/>
<rect x="128" y="321" width="1" height="19" fill="#32cd32"/>
<rect x="126" y="326" width="5" height="1" fill="#32cd32"/>
<rect x="136" y="317" width="1" height="22" fill="#32cd32"/>
<rect x="134" y="326" width="5" height="2" fill="#32cd32"/>
<rect x="144" y="328" width="1" height="57" fill="#32cd32"/>
<rect x="142" y="328" width="5" height="54" fill="#32cd32"/>
<rect x="152" y="330" width="1" height="64" fill="#ff0000"/>
<rect x="150" y="345" width="5" height="37" fill="#ff0000"/>
<rect x="151" y="346" width="3" height="35" fill="#ff4500"/>
<rect x="160" y="301" width="1" height="46" fill="#ff0000"/>
<rect x="158" y="329" width="5" height="17" fill="#ff0000"/>
<rect x="159" y="330" width="3" height="15" fill="#ff4500"/>
<rect x="168" y="329" width="1" height="16" fill="#32cd32"/>
<rect x="166" y="329" width="5" height="5" fill="#32cd32"/>
<rect x="176" y="314" width="1" height="25" fill="#ff0000"/>
<rect x="174" y="315" width="5" height="18" fill="#ff0000"/>
<rect x="175" y="316" width="3" height="16" fill="#ff4500"/>
<rect x="184" y="306" width="1" height="23" fill="#ff0000"/>
<rect x="182" y="313" width="5" height="3" fill="#ff0000"/>
<rect x="183" y="314" width="3" height="1" fill="#ff4500"/>
<rect x="192" y="306" width="1" height="21" fill="#32cd32"/>
<rect x="190" y="313" width="5" height="3" fill="#32cd32"/>
<rect x="200" y="295" width="1" height="50" fill="#32cd32"/>
<rect x="198" y="315" width="5" height="10" fill="#32cd32"/>
<rect x="208" y="323" width="1" height="31" fill="#32cd32"/>
<rect x="206" y="325" width="5" height="1" fill="#32cd32"/>
<rect x="216" y="321" width="1" height="10" fill="#ff0000"/>
<rect x="214" y="323" width="5" height="3" fill="#ff0000"/>
<rect x="215" y="324" width="3" height="1" fill="#ff4500"/>
<rect x="224" y="324" width="1" height="19" fill="#32cd32"/>
<rect x="222" y="329" width="5" height="7" fill="#32cd32"/>
<rect x="232" y="313" width="1" height="24" fill="#ff0000"/>
<rect x="230" y="320" width="5" height="16" fill="#ff0000"/>
<rect x="231" y="321" width="3" height="14" fill="#ff4500"/>
<rect x="240" y="301" width="1" height="51" fill="#32cd32"/>
<rect x="238" y="320" width="5" height="4" fill="#32cd32"/>
<rect x="248" y="317" width="1" height="19" fill="#32cd32"/>
<rect x="246" y="323" width="5" height="5" fill="#32cd32"/>
<rect x="256" y="280" width="1" height="57" fill="#ff0000"/>
<rect x="254" y="285" width="5" height="44" fill="#ff0000"/>
<rect x="255" y="286" width="3" height="42" fill="#ff4500"/>
<rect x="264" y="265" width="1" height="22" fill="#ff0000"/>
<rect x="262" y="276" width="5" height="10" fill="#ff0000"/>
<rect x="263" y="277" width="3" height="8" fill="#ff4500"/>
<rect x="272" y="272" width="1" height="18" fill="#ff0000"/>
<rect x="270" y="272" width="5" height="6" fill="#ff0000"/>
<rect x="271" y="273" width="3" height="4" fill="#ff4500"/>
<rect x="280" y="252" width="1" height="28" fill="#ff0000"/>
<rect x="278" y="260" width="5" height="13" fill="#ff0000"/>
<rect x="279" y="261" width="3" height="11" fill="#ff4500"/>
<rect x="288" y="250" width="1" height="28" fill="#32cd32"/>
<rect x="286" y="260" width="5" height="7" fill="#32cd32"/>
<rect x="296" y="253" width="1" height="24" fill="#32cd32"/>
<rect x="294" y="266" width="5" height="2" fill="#32cd32"/>
<rect x="304" y="265" width="1" height="52" fill="#32cd32"/>
<rect x="302" y="267" width="5" height="43" fill="#32cd32"/>
<rect x="312" y="291" width="1" height="23" fill="#ff0000"/>
<rect x="310" y="298" width="5" height="12" fill="#ff0000"/>
<rect x="311" y="299" width="3" height="10" fill="#ff4500"/>
<rect x="320" y="280" width="1" height="30" fill="#ff0000"/>
<rect x="318" y="295" width="5" height="10" fill="#ff0000"/>
<rect x="319" y="296" width="3" height="8" fill="#ff4500"/>
<rect x="328" y="246" width="1" height="58" fill="#ff0000"/>
<rect x="326" y="264" width="5" height="32" fill="#ff0000"/>
<rect x="327" y="265" width="3" height="30" fill="#ff4500"/>
<rect x="336" y="223" width="1" height="46" fill="#ff0000"/>
<rect x="334" y="233" width="5" height="31" fill="#ff0000"/>
<rect x="335" y="234" width="3" height="29" fill="#ff4500"/>
<rect x="344" y="234" width="1" height="47" fill="#32cd32"/>
<rect x="342" y="234" width="5" height="40" fill="#32cd32"/>
<rect x="352" y="252" width="1" height="39" fill="#ff0000"/>
<rect x="350" y="264" width="5" height="10" fill="#ff0000"/>
<rect x="351" y="265" width="3" height="8" fill="#ff4500"/>
<rect x="360" y="262" width="1" height="26" fill="#32cd32"/>
<rect x="358" y="264" width="5" height="2" fill="#32cd32"/>
<rect x="368" y="261" width="1" height="27" fill="#ff0000"/>
<rect x="366" y="263" width="5" height="8" fill="#ff0000"/>
<rect x="367" y="264" width="3" height="6" fill="#ff4500"/>
<rect x="376" y="240" width="1" height="29" fill="#ff0000"/>
<rect x="374" y="241" width="5" height="22" fill="#ff0000"/>
<rect x="375" y="242" width="3" height="20" fill="#ff4500"/>
<rect x="384" y="203" width="1" height="40" fill="#ff0000"/>
<rect x="382" y="204" width="5" height="38" fill="#ff0000"/>
<rect x="383" y="205" width="3" height="36" fill="#ff4500"/>
<rect x="392" y="204" width="1" height="57" fill="#32cd32"/>
<rect x="390" y="204" width="5" height="38" fill="#32cd32"/>
<rect x="400" y="216" width="1" height="37" fill="#ff0000"/>
<rect x="398" y="237" width="5" height="6" fill="#ff0000"/>
<rect x="399" y="238" width="3" height="4" fill="#ff4500"/>
<rect x="408" y="225" width="1" height="18" fill="#32cd32"/>
<rect x="406" y="236" width="5" height="2" fill="#32cd32"/>
<rect x="416" y="248" width="1" height="53" fill="#32cd32"/>
<rect x="414" y="255" width="5" height="32" fill="#32cd32"/>
<rect x="424" y="271" width="1" height="28" fill="#ff0000"/>
<rect x="422" y="277" width="5" height="10" fill="#ff0000"/>
<rect x="423" y="278" width="3" height="8" fill="#ff4500"/>
<rect x="432" y="184" width="1" height="105" fill="#ff0000"/>
<rect x="430" y="194" width="5" height="85" fill="#ff0000"/>
<rect x="431" y="195" width="3" height="83" fill="#ff4500"/>
<rect x="440" y="162" width="1" height="46" fill="#ff0000"/>
<rect x="438" y="171" width="5" height="24" fill="#ff0000"/>
<rect x="439" y="172" width="3" height="22" fill="#ff4500"/>
<rect x="448" y="164" width="1" height="92" fill="#32cd32"/>
<rect x="446" y="172" width="5" height="65" fill="#32cd32"/>
<rect x="456" y="226" width="1" height="15" fill="#32cd32"/>
<rect x="454" y="236" width="5" height="5" fill="#32cd32"/>
<rect x="464" y="186" width="1" height="50" fill="#ff0000"/>
<rect x="462" y="187" width="5" height="31" fill="#ff0000"/>
<rect x="463" y="188" width="3" height="29" fill="#ff4500"/>
<rect x="472" y="173" width="1" height="22" fill="#ff0000"/>
<rect x="470" y="177" width="5" height="10" fill="#ff0000"/>
<rect x="471" y="178" width="3" height="8" fill="#ff4500"/>
<rect x="480" y="172" width="1" height="50" fill="#32cd32"/>
<rect x="478" y="177" width="5" height="40" fill="#32cd32"/>
<rect x="488" y="191" width="1" height="32" fill="#ff0000"/>
<rect x="486" y="205" width="5" height="12" fill="#ff0000"/>
<rect x="487" y="206" width="3" height="10" fill="#ff4500"/>
<rect x="496" y="183" width="1" height="32" fill="#ff0000"/>
<rect x="494" y="198" width="5" height="9" fill="#ff0000"/>
<rect x="495" y="199" width="3" height="7" fill="#ff4500"/>
<rect x="504" y="189" width="1" height="10" fill="#ff0000"/>
<rect x="502" y="197" width="5" height="2" fill="#ff0000"/>
<rect x="512" y="179" width="1" height="19" fill="#32cd32"/>
<rect x="510" y="193" width="5" height="3" fill="#32cd32"/>
<rect x="520" y="162" width="1" height="33" fill="#ff0000"/>
<rect x="518" y="162" width="5" height="33" fill="#ff0000"/>
<rect x="519" y="163" width="3" height="31" fill="#ff4500"/>
<rect x="528" y="136" width="1" height="41" fill="#32cd32"/>
<rect x="526" y="162" width="5" height="14" fill="#32cd32"/>
<rect x="536" y="132" width="1" height="44" fill="#ff0000"/>
<rect x="534" y="138" width="5" height="38" fill="#ff0000"/>
<rect x="535" y="139" width="3" height="36" fill="#ff4500"/>
<rect x="544" y="104" width="1" height="39" fill="#ff0000"/>
<rect x="542" y="109" width="5" height="30" fill="#ff0000"/>
<rect x="543" y="110" width="3" height="28" fill="#ff4500"/>
<rect x="552" y="88" width="1" height="24" fill="#ff0000"/>
<rect x="550" y="91" width="5" height="19" fill="#ff0000"/>
<rect x="551" y="92" width="3" height="17" fill="#ff4500"/>
<rect x="560" y="85" width="1" height="19" fill="#32cd32"/>
<rect x="558" y="89" width="5" height="5" fill="#32cd32"/>
<rect x="568" y="80" width="1" height="23" fill="#ff0000"/>
<rect x="566" y="92" width="5" height="2" fill="#ff0000"/>
<rect x="576" y="77" width="1" height="20" fill="#ff0000"/>
<rect x="574" y="83" width="5" height="5" fill="#ff0000"/>
<rect x="575" y="84" width="3" height="3" fill="#ff4500"/>
<rect x="584" y="57" width="1" height="46" fill="#ff0000"/>
<rect x="582" y="67" width="5" height="17" fill="#ff0000"/>
<rect x="583" y="68" width="3" height="15" fill="#ff4500"/>
<rect x="592" y="57" width="1" height="32" fill="#32cd32"/>
<rect x="590" y="67" width="5" height="4" fill="#32cd32"/>
<rect x="600" y="62" width="1" height="19" fill="#ff0000"/>
<rect x="598" y="67" width="5" height="4" fill="#ff0000"/>
<rect x="599" y="68" width="3" height="2" fill="#ff4500"/>
<rect x="608" y="54" width="1" height="29" fill="#ff0000"/>
<rect x="606" y="61" width="5" height="12" fill="#ff0000"/>
<rect x="607" y="62" width="3" height="10" fill="#ff4500"/>
<rect x="616" y="56" width="1" height="20" fill="#32cd32"/>
<rect x="614" y="61" width="5" height="14" fill="#32cd32"/>
<rect x="624" y="56" width="1" height="46" fill="#32cd32"/>
<rect x="622" y="72" width="5" height="12" fill="#32cd32"/>
<rect x="632" y="59" width="1" height="74" fill="#32cd32"/>
<rect x="630" y="83" width="5" height="49" fill="#32cd32"/>
<rect x="640" y="126" width="1" height="66" fill="#32cd32"/>
<rect x="638" y="131" width="5" height="59" fill="#32cd32"/>
<rect x="648" y="173" width="1" height="20" fill="#ff0000"/>
<rect x="646" y="186" width="5" height="4" fill="#ff0000"/>
<rect x="647" y="187" width="3" height="2" fill="#ff4500"/>
<rect x="656" y="191" width="1" height="40" fill="#32cd32"/>
<rect x="654" y="191" width="5" height="34" fill="#32cd32"/>
<rect x="664" y="225" width="1" height="24" fill="#32cd32"/>
<rect x="662" y="225" width="5" height="14" fill="#32cd32"/>
<rect x="672" y="220" width="1" height="70" fill="#32cd32"/>
<rect x="670" y="238" width="5" height="25" fill="#32cd32"/>
<rect x="680" y="252" width="1" height="30" fill="#32cd32"/>
<rect x="678" y="262" width="5" height="5" fill="#32cd32"/>
<rect x="688" y="244" width="1" height="46" fill="#ff0000"/>
<rect x="686" y="255" width="5" height="13" fill="#ff0000"/>
<rect x="687" y="256" width="3" height="11" fill="#ff4500"/>
<rect x="696" y="246" width="1" height="11" fill="#ff0000"/>
<rect x="694" y="246" width="5" height="10" fill="#ff0000"/>
<rect x="695" y="247" width="3" height="8" fill="#ff4500"/>
<rect x="704" y="233" width="1" height="23" fill="#ff0000"/>
<rect x="702" y="249" width="5" height="4" fill="#ff0000"/>
<rect x="703" y="250" width="3" height="2" fill="#ff4500"/>
<rect x="712" y="240" width="1" height="28" fill="#32cd32"/>
<rect x="710" y="250" width="5" height="11" fill="#32cd32"/>
<rect x="720" y="235" width="1" height="30" fill="#ff0000"/>
<rect x="718" y="257" width="5" height="4" fill="#ff0000"/>
<rect x="719" y="258" width="3" height="2" fill="#ff4500"/>
<rect x="728" y="223" width="1" height="40" fill="#ff0000"/>
<rect x="726" y="234" width="5" height="24" fill="#ff0000"/>
<rect x="727" y="235" width="3" height="22" fill="#ff4500"/>
<rect x="736" y="230" width="1" height="38" fill="#32cd32"/>
<rect x="734" y="235" width="5" height="21" fill="#32cd32"/>
<rect x="744" y="244" width="1" height="19" fill="#ff0000"/>
<rect x="742" y="246" width="5" height="10" fill="#ff0000"/>
<rect x="743" y="247" width="3" height="8" fill="#ff4500"/>
<rect x="752" y="223" width="1" height="33" fill="#ff0000"/>
<rect x="750" y="237" width="5" height="15" fill="#ff0000"/>
<rect x="751" y="238" width="3" height="13" fill="#ff4500"/>
<rect x="760" y="206" width="1" height="35" fill="#ff0000"/>
<rect x="758" y="214" width="5" height="24" fill="#ff0000"/>
<rect x="759" y="215" width="3" height="22" fill="#ff4500"/>
<rect x="768" y="198" width="1" height="32" fill="#ff0000"/>
<rect x="766" y="205" width="5" height="9" fill="#ff0000"/>
<rect x="767" y="206" width="3" height="7" fill="#ff4500"/>
<rect x="776" y="196" width="1" height="22" fill="#32cd32"/>
<rect x="774" y="205" width="5" height="8" fill="#32cd32"/>
<rect x="784" y="201" width="1" height="62" fill="#32cd32"/>
<rect x="782" y="213" width="5" height="39" fill="#32cd32"/>
<rect x="792" y="247" width="1" height="21" fill="#32cd32"/>
<rect x="790" y="251" width="5" height="17" fill="#32cd32"/>
<rect x="800" y="239" width="1" height="41" fill="#ff0000"/>
<rect x="798" y="253" width="5" height="21" fill="#ff0000"/>
<rect x="799" y="254" width="3" height="19" fill="#ff4500"/>
<rect x="808" y="242" width="1" height="19" fill="#ff0000"/>
<rect x="806" y="246" width="5" height="7" fill="#ff0000"/>
<rect x="807" y="247" width="3" height="5" fill="#ff4500"/>
<rect x="816" y="239" width="1" height="47" fill="#32cd32"/>
<rect x="814" y="246" width="5" height="35" fill="#32cd32"/>
<rect x="824" y="276" width="1" height="45" fill="#32cd32"/>
<rect x="822" y="280" width="5" height="34" fill="#32cd32"/>
<rect x="832" y="301" width="1" height="37" fill="#32cd32"/>
<rect x="830" y="313" width="5" height="18" fill="#32cd32"/>
<rect x="840" y="328" width="1" height="18" fill="#32cd32"/>
<rect x="838" y="330" width="5" height="6" fill="#32cd32"/>
<rect x="848" y="306" width="1" height="30" fill="#ff0000"/>
<rect x="846" y="318" width="5" height="18" fill="#ff0000"/>
<rect x="847" y="319" width="3" height="16" fill="#ff4500"/>
<rect x="856" y="304" width="1" height="25" fill="#ff0000"/>
<rect x="854" y="314" width="5" height="5" fill="#ff0000"/>
<rect x="855" y="315" width="3" height="3" fill="#ff4500"/>
<rect x="864" y="277" width="1" height="41" fill="#ff0000"/>
<rect x="862" y="293" width="5" height="22" fill="#ff0000"/>
<rect x="863" y="294" width="3" height="20" fill="#ff4500"/>
<rect x="872" y="242" width="1" height="51" fill="#ff0000"/>
<rect x="870" y="250" width="5" height="43" fill="#ff0000"/>
<rect x="871" y="251" width="3" height="41" fill="#ff4500"/>
<rect x="880" y="218" width="1" height="48" fill="#ff0000"/>
<rect x="878" y="245" width="5" height="6" fill="#ff0000"/>
<rect x="879" y="246" width="3" height="4" fill="#ff4500"/>
<rect x="888" y="234" width="1" height="17" fill="#32cd32"/>
<rect x="886" y="245" width="5" height="3" fill="#32cd32"/>
<rect x="896" y="226" width="1" height="26" fill="#ff0000"/>
<rect x="894" y="227" width="5" height="22" fill="#ff0000"/>
<rect x="895" y="228" width="3" height="20" fill="#ff4500"/>
<rect x="904" y="223" width="1" height="37" fill="#32cd32"/>
<rect x="902" y="227" width="5" height="27" fill="#32cd32"/>
<rect x="912" y="250" width="1" height="29" fill="#32cd32"/>
<rect x="910" y="253" width="5" height="23" fill="#32cd32"/>
<rect x="653" y="193" width="313" height="2" fill="#ff1e1e"/>
<rect x="671" y="268" width="299" height="2" fill="#8cc800"/>
<rect x="665" y="338" width="313" height="2" fill="#1e82dc"/>
</g>
</g>
<g shape-rendering="crispEdges">
<rect x="1159" y="44" width="2" height="1" fill="#000"/>
<rect x="1159" y="77" width="2" height="1" fill="#000"/>
<rect x="1159" y="110" width="2" height="1" fill="#000"/>
<rect x="1159" y="143" width="2" height="1" fill="#000"/>
<rect x="1159" y="176" width="2" height="1" fill="#000"/>
<rect x="1159" y="209" width="2" height="1" fill="#000"/>
<rect x="1159" y="242" width="2" height="1" fill="#000"/>
<rect x="1159" y="308" width="2" height="1" fill="#000"/>
<rect x="1159" y="341" width="2" height="1" fill="#000"/>
<rect x="1159" y="374" width="2" height="1" fill="#000"/>
<rect x="1159" y="407" width="2" height="1" fill="#000"/>
<rect x="1159" y="440" width="2" height="1" fill="#000"/>
<rect x="1159" y="473" width="2" height="1" fill="#000"/>
</g>
<text x="1164" y="48" font-size="10" fill="#000" text-rendering="geometricPrecision" stroke="#000" stroke-width="0.12" textLength="33" lengthAdjust="spacingAndGlyphs">1.36850</text>
<text x="1164" y="81" font-size="10" fill="#000" text-rendering="geometricPrecision" stroke="#000" stroke-width="0.12" textLength="33" lengthAdjust="spacingAndGlyphs">1.36170</text>
<text x="1164" y="114" font-size="10" fill="#000" text-rendering="geometricPrecision" stroke="#000" stroke-width="0.12" textLength="33" lengthAdjust="spacingAndGlyphs">1.35490</text>
<text x="1164" y="147" font-size="10" fill="#000" text-rendering="geometricPrecision" stroke="#000" stroke-width="0.12" textLength="33" lengthAdjust="spacingAndGlyphs">1.34830</text>
<text x="1164" y="180" font-size="10" fill="#000" text-rendering="geometricPrecision" stroke="#000" stroke-width="0.12" textLength="33" lengthAdjust="spacingAndGlyphs">1.34150</text>
<text x="1164" y="213" font-size="10" fill="#000" text-rendering="geometricPrecision" stroke="#000" stroke-width="0.12" textLength="33" lengthAdjust="spacingAndGlyphs">1.33470</text>
<text x="1164" y="246" font-size="10" fill="#000" text-rendering="geometricPrecision" stroke="#000" stroke-width="0.12" textLength="33" lengthAdjust="spacingAndGlyphs">1.32790</text>
<text x="1164" y="312" font-size="10" fill="#000" text-rendering="geometricPrecision" stroke="#000" stroke-width="0.12" textLength="33" lengthAdjust="spacingAndGlyphs">1.31430</text>
<text x="1164" y="345" font-size="10" fill="#000" text-rendering="geometricPrecision" stroke="#000" stroke-width="0.12" textLength="33" lengthAdjust="spacingAndGlyphs">1.30750</text>
<text x="1164" y="378" font-size="10" fill="#000" text-rendering="geometricPrecision" stroke="#000" stroke-width="0.12" textLength="33" lengthAdjust="spacingAndGlyphs">1.30070</text>
<text x="1164" y="411" font-size="10" fill="#000" text-rendering="geometricPrecision" stroke="#000" stroke-width="0.12" textLength="33" lengthAdjust="spacingAndGlyphs">1.29390</text>
<text x="1164" y="444" font-size="10" fill="#000" text-rendering="geometricPrecision" stroke="#000" stroke-width="0.12" textLength="33" lengthAdjust="spacingAndGlyphs">1.28710</text>
<text x="1164" y="477" font-size="10" fill="#000" text-rendering="geometricPrecision" stroke="#000" stroke-width="0.12" textLength="33" lengthAdjust="spacingAndGlyphs">1.28050</text>
<rect x="1160" y="270" width="41" height="11" fill="#000" shape-rendering="crispEdges"/>
<rect x="1159" y="275" width="1" height="1" fill="#000"/>
<text x="1164" y="279" font-size="10" fill="#fff" text-rendering="geometricPrecision" stroke="#fff" stroke-width="0.12" textLength="33" lengthAdjust="spacingAndGlyphs">1.32108</text>
<path d="M11,43.5 L14.5,39 L18,43.5 Z" fill="#000"/>
<text x="23" y="44" font-size="10" fill="#000" text-rendering="geometricPrecision" stroke="#000" stroke-width="0.12" textLength="65" lengthAdjust="spacingAndGlyphs">USDCAD,Daily</text>
<text x="95" y="44" font-size="10" fill="#000" text-rendering="geometricPrecision" stroke="#000" stroke-width="0.12" textLength="141" lengthAdjust="spacingAndGlyphs">1.32569 1.32630 1.32040 1.32108</text>
<g clip-path="url(#cr)">
<line x1="8" y1="499.5" x2="1158" y2="499.5" stroke="#c0c0c0" stroke-width="1" stroke-dasharray="3,3" shape-rendering="crispEdges"/>
<line x1="8" y1="525.5" x2="1158" y2="525.5" stroke="#c0c0c0" stroke-width="1" stroke-dasharray="3,3" shape-rendering="crispEdges"/>
<path d="M580 498h8v1h-8zM596 498h14v1h-14zM572 499h8v1h-8zM588 499h8v1h-8zM610 499h2v1h-2zM278 500h4v1h-4zM383 500h2v1h-2zM548 500h24v1h-24zM612 500h3v1h-3zM274 501h4v1h-4zM282 501h4v1h-4zM335 501h2v1h-2zM381 501h2v1h-2zM385 501h1v1h-1zM542 501h6v1h-6zM615 501h3v1h-3zM260 502h14v1h-14zM286 502h11v1h-11zM332 502h3v1h-3zM337 502h1v1h-1zM379 502h2v1h-2zM386 502h1v1h-1zM438 502h3v1h-3zM538 502h4v1h-4zM618 502h4v1h-4zM256 503h4v1h-4zM297 503h1v1h-1zM330 503h2v1h-2zM338 503h1v1h-1zM377 503h2v1h-2zM387 503h1v1h-1zM434 503h4v1h-4zM441 503h1v1h-1zM535 503h3v1h-3zM622 503h3v1h-3zM254 504h2v1h-2zM298 504h1v1h-1zM328 504h2v1h-2zM339 504h1v1h-1zM375 504h2v1h-2zM388 504h2v1h-2zM432 504h2v1h-2zM442 504h1v1h-1zM532 504h3v1h-3zM625 504h1v1h-1zM110 505h14v1h-14zM253 505h1v1h-1zM299 505h1v1h-1zM326 505h2v1h-2zM340 505h2v1h-2zM372 505h3v1h-3zM390 505h1v1h-1zM431 505h1v1h-1zM443 505h1v1h-1zM468 505h5v1h-5zM519 505h5v1h-5zM530 505h2v1h-2zM626 505h1v1h-1zM106 506h4v1h-4zM124 506h13v1h-13zM174 506h20v1h-20zM252 506h1v1h-1zM300 506h1v1h-1zM324 506h2v1h-2zM342 506h1v1h-1zM370 506h2v1h-2zM391 506h1v1h-1zM396 506h13v1h-13zM430 506h1v1h-1zM444 506h1v1h-1zM463 506h5v1h-5zM473 506h2v1h-2zM516 506h3v1h-3zM524 506h6v1h-6zM627 506h1v1h-1zM70 507h3v1h-3zM103 507h3v1h-3zM137 507h1v1h-1zM170 507h4v1h-4zM194 507h4v1h-4zM250 507h2v1h-2zM300 507h1v1h-1zM323 507h1v1h-1zM343 507h1v1h-1zM348 507h22v1h-22zM392 507h4v1h-4zM409 507h1v1h-1zM429 507h1v1h-1zM445 507h1v1h-1zM461 507h2v1h-2zM475 507h2v1h-2zM514 507h2v1h-2zM628 507h1v1h-1zM55 508h5v1h-5zM66 508h4v1h-4zM73 508h1v1h-1zM101 508h2v1h-2zM138 508h1v1h-1zM156 508h14v1h-14zM198 508h20v1h-20zM230 508h14v1h-14zM249 508h1v1h-1zM301 508h1v1h-1zM321 508h2v1h-2zM344 508h4v1h-4zM410 508h1v1h-1zM428 508h1v1h-1zM446 508h1v1h-1zM459 508h2v1h-2zM477 508h2v1h-2zM484 508h30v1h-30zM629 508h1v1h-1zM895 508h2v1h-2zM52 509h3v1h-3zM60 509h6v1h-6zM74 509h2v1h-2zM99 509h2v1h-2zM139 509h1v1h-1zM151 509h5v1h-5zM218 509h4v1h-4zM226 509h4v1h-4zM244 509h5v1h-5zM302 509h1v1h-1zM310 509h11v1h-11zM411 509h1v1h-1zM427 509h1v1h-1zM447 509h1v1h-1zM457 509h2v1h-2zM479 509h5v1h-5zM630 509h1v1h-1zM892 509h3v1h-3zM897 509h2v1h-2zM50 510h2v1h-2zM76 510h1v1h-1zM97 510h2v1h-2zM140 510h2v1h-2zM149 510h2v1h-2zM222 510h4v1h-4zM303 510h1v1h-1zM306 510h4v1h-4zM412 510h1v1h-1zM426 510h1v1h-1zM448 510h9v1h-9zM631 510h1v1h-1zM890 510h2v1h-2zM899 510h2v1h-2zM30 511h6v1h-6zM44 511h6v1h-6zM77 511h1v1h-1zM95 511h2v1h-2zM142 511h1v1h-1zM147 511h2v1h-2zM304 511h2v1h-2zM413 511h1v1h-1zM425 511h1v1h-1zM632 511h1v1h-1zM872 511h18v1h-18zM901 511h2v1h-2zM26 512h4v1h-4zM36 512h8v1h-8zM78 512h2v1h-2zM93 512h2v1h-2zM143 512h1v1h-1zM145 512h2v1h-2zM414 512h1v1h-1zM422 512h3v1h-3zM633 512h1v1h-1zM764 512h8v1h-8zM871 512h1v1h-1zM903 512h3v1h-3zM15 513h11v1h-11zM80 513h2v1h-2zM91 513h2v1h-2zM144 513h1v1h-1zM415 513h1v1h-1zM418 513h4v1h-4zM634 513h1v1h-1zM759 513h5v1h-5zM772 513h5v1h-5zM870 513h1v1h-1zM906 513h2v1h-2zM12 514h3v1h-3zM82 514h4v1h-4zM89 514h2v1h-2zM416 514h2v1h-2zM635 514h1v1h-1zM757 514h2v1h-2zM777 514h2v1h-2zM868 514h2v1h-2zM908 514h3v1h-3zM10 515h2v1h-2zM86 515h3v1h-3zM636 515h2v1h-2zM755 515h2v1h-2zM779 515h1v1h-1zM867 515h1v1h-1zM911 515h2v1h-2zM6 516h4v1h-4zM638 516h1v1h-1zM753 516h2v1h-2zM780 516h2v1h-2zM806 516h3v1h-3zM866 516h1v1h-1zM2 517h4v1h-4zM639 517h1v1h-1zM748 517h5v1h-5zM782 517h2v1h-2zM802 517h4v1h-4zM809 517h2v1h-2zM865 517h1v1h-1zM0 518h2v1h-2zM640 518h10v1h-10zM727 518h3v1h-3zM742 518h6v1h-6zM784 518h2v1h-2zM798 518h4v1h-4zM811 518h2v1h-2zM863 518h2v1h-2zM650 519h2v1h-2zM725 519h2v1h-2zM730 519h4v1h-4zM738 519h4v1h-4zM786 519h4v1h-4zM794 519h4v1h-4zM813 519h2v1h-2zM860 519h3v1h-3zM652 520h3v1h-3zM723 520h2v1h-2zM734 520h4v1h-4zM790 520h4v1h-4zM815 520h2v1h-2zM858 520h2v1h-2zM655 521h5v1h-5zM694 521h12v1h-12zM721 521h2v1h-2zM817 521h2v1h-2zM852 521h6v1h-6zM660 522h6v1h-6zM690 522h4v1h-4zM706 522h4v1h-4zM716 522h5v1h-5zM819 522h2v1h-2zM847 522h5v1h-5zM666 523h4v1h-4zM686 523h4v1h-4zM710 523h6v1h-6zM821 523h2v1h-2zM844 523h3v1h-3zM670 524h6v1h-6zM682 524h4v1h-4zM823 524h5v1h-5zM842 524h2v1h-2zM676 525h6v1h-6zM828 525h14v1h-14z" fill="#1e90ff" shape-rendering="crispEdges"/>
</g>
<text x="12" y="491" font-size="10" fill="#000" text-rendering="geometricPrecision" stroke="#000" stroke-width="0.12" textLength="68" lengthAdjust="spacingAndGlyphs">RSI(14) 45.6787</text>
<text x="1162.5" y="489" font-size="10" fill="#000" text-rendering="geometricPrecision" stroke="#000" stroke-width="0.12" textLength="14" lengthAdjust="spacingAndGlyphs">100</text>
<text x="1161.5" y="502.5" font-size="10" fill="#000" text-rendering="geometricPrecision" stroke="#000" stroke-width="0.12" textLength="10" lengthAdjust="spacingAndGlyphs">70</text>
<text x="1161.2" y="528.5" font-size="10" fill="#000" text-rendering="geometricPrecision" stroke="#000" stroke-width="0.12" textLength="10" lengthAdjust="spacingAndGlyphs">30</text>
<text x="1161.5" y="541" font-size="10" fill="#000" text-rendering="geometricPrecision" stroke="#000" stroke-width="0.12" textLength="5.5" lengthAdjust="spacingAndGlyphs">0</text>
<rect x="1159" y="478" width="2" height="1" fill="#000"/>
<rect x="1159" y="545" width="2" height="1" fill="#000"/>
<g clip-path="url(#cd)">
<g shape-rendering="crispEdges">
<rect x="7" y="587" width="3" height="21" fill="#c0c0c0"/>
<rect x="15" y="587" width="3" height="18" fill="#c0c0c0"/>
<rect x="23" y="587" width="3" height="16" fill="#c0c0c0"/>
<rect x="31" y="587" width="3" height="13" fill="#c0c0c0"/>
<rect x="39" y="587" width="3" height="11" fill="#c0c0c0"/>
<rect x="47" y="587" width="3" height="8" fill="#c0c0c0"/>
<rect x="55" y="587" width="3" height="5" fill="#c0c0c0"/>
<rect x="63" y="587" width="3" height="3" fill="#c0c0c0"/>
<rect x="71" y="586" width="3" height="1" fill="#c0c0c0"/>
<rect x="79" y="586" width="3" height="1" fill="#c0c0c0"/>
<rect x="87" y="587" width="3" height="2" fill="#c0c0c0"/>
<rect x="95" y="587" width="3" height="1" fill="#c0c0c0"/>
<rect x="103" y="584" width="3" height="3" fill="#c0c0c0"/>
<rect x="111" y="581" width="3" height="6" fill="#c0c0c0"/>
<rect x="119" y="578" width="3" height="9" fill="#c0c0c0"/>
<rect x="127" y="576" width="3" height="11" fill="#c0c0c0"/>
<rect x="135" y="575" width="3" height="12" fill="#c0c0c0"/>
<rect x="143" y="577" width="3" height="10" fill="#c0c0c0"/>
<rect x="151" y="577" width="3" height="10" fill="#c0c0c0"/>
<rect x="159" y="576" width="3" height="11" fill="#c0c0c0"/>
<rect x="167" y="576" width="3" height="11" fill="#c0c0c0"/>
<rect x="175" y="574" width="3" height="13" fill="#c0c0c0"/>
<rect x="183" y="573" width="3" height="14" fill="#c0c0c0"/>
<rect x="191" y="573" width="3" height="14" fill="#c0c0c0"/>
<rect x="199" y="573" width="3" height="14" fill="#c0c0c0"/>
<rect x="207" y="574" width="3" height="13" fill="#c0c0c0"/>
<rect x="215" y="574" width="3" height="13" fill="#c0c0c0"/>
<rect x="223" y="575" width="3" height="12" fill="#c0c0c0"/>
<rect x="231" y="575" width="3" height="12" fill="#c0c0c0"/>
<rect x="239" y="576" width="3" height="11" fill="#c0c0c0"/>
<rect x="247" y="577" width="3" height="10" fill="#c0c0c0"/>
<rect x="255" y="575" width="3" height="12" fill="#c0c0c0"/>
<rect x="263" y="573" width="3" height="14" fill="#c0c0c0"/>
<rect x="271" y="571" width="3" height="16" fill="#c0c0c0"/>
<rect x="279" y="570" width="3" height="17" fill="#c0c0c0"/>
<rect x="287" y="569" width="3" height="18" fill="#c0c0c0"/>
<rect x="295" y="568" width="3" height="19" fill="#c0c0c0"/>
<rect x="303" y="571" width="3" height="16" fill="#c0c0c0"/>
<rect x="311" y="572" width="3" height="15" fill="#c0c0c0"/>
<rect x="319" y="573" width="3" height="14" fill="#c0c0c0"/>
<rect x="327" y="573" width="3" height="14" fill="#c0c0c0"/>
<rect x="335" y="570" width="3" height="17" fill="#c0c0c0"/>
<rect x="343" y="571" width="3" height="16" fill="#c0c0c0"/>
<rect x="351" y="571" width="3" height="16" fill="#c0c0c0"/>
<rect x="359" y="572" width="3" height="15" fill="#c0c0c0"/>
<rect x="367" y="572" width="3" height="15" fill="#c0c0c0"/>
<rect x="375" y="571" width="3" height="16" fill="#c0c0c0"/>
<rect x="383" y="568" width="3" height="19" fill="#c0c0c0"/>
<rect x="391" y="569" width="3" height="18" fill="#c0c0c0"/>
<rect x="399" y="569" width="3" height="18" fill="#c0c0c0"/>
<rect x="407" y="569" width="3" height="18" fill="#c0c0c0"/>
<rect x="415" y="573" width="3" height="14" fill="#c0c0c0"/>
<rect x="423" y="575" width="3" height="12" fill="#c0c0c0"/>
<rect x="431" y="572" width="3" height="15" fill="#c0c0c0"/>
<rect x="439" y="568" width="3" height="19" fill="#c0c0c0"/>
<rect x="447" y="570" width="3" height="17" fill="#c0c0c0"/>
<rect x="455" y="571" width="3" height="16" fill="#c0c0c0"/>
<rect x="463" y="569" width="3" height="18" fill="#c0c0c0"/>
<rect x="471" y="567" width="3" height="20" fill="#c0c0c0"/>
<rect x="479" y="568" width="3" height="19" fill="#c0c0c0"/>
<rect x="487" y="569" width="3" height="18" fill="#c0c0c0"/>
<rect x="495" y="569" width="3" height="18" fill="#c0c0c0"/>
<rect x="503" y="569" width="3" height="18" fill="#c0c0c0"/>
<rect x="511" y="570" width="3" height="17" fill="#c0c0c0"/>
<rect x="519" y="568" width="3" height="19" fill="#c0c0c0"/>
<rect x="527" y="568" width="3" height="19" fill="#c0c0c0"/>
<rect x="535" y="565" width="3" height="22" fill="#c0c0c0"/>
<rect x="543" y="562" width="3" height="25" fill="#c0c0c0"/>
<rect x="551" y="559" width="3" height="28" fill="#c0c0c0"/>
<rect x="559" y="557" width="3" height="30" fill="#c0c0c0"/>
<rect x="567" y="555" width="3" height="32" fill="#c0c0c0"/>
<rect x="575" y="554" width="3" height="33" fill="#c0c0c0"/>
<rect x="583" y="552" width="3" height="35" fill="#c0c0c0"/>
<rect x="591" y="552" width="3" height="35" fill="#c0c0c0"/>
<rect x="599" y="551" width="3" height="36" fill="#c0c0c0"/>
<rect x="607" y="551" width="3" height="36" fill="#c0c0c0"/>
<rect x="615" y="552" width="3" height="35" fill="#c0c0c0"/>
<rect x="623" y="554" width="3" height="33" fill="#c0c0c0"/>
<rect x="631" y="559" width="3" height="28" fill="#c0c0c0"/>
<rect x="639" y="566" width="3" height="21" fill="#c0c0c0"/>
<rect x="647" y="572" width="3" height="15" fill="#c0c0c0"/>
<rect x="655" y="579" width="3" height="8" fill="#c0c0c0"/>
<rect x="663" y="586" width="3" height="1" fill="#c0c0c0"/>
<rect x="671" y="587" width="3" height="6" fill="#c0c0c0"/>
<rect x="679" y="587" width="3" height="12" fill="#c0c0c0"/>
<rect x="687" y="587" width="3" height="15" fill="#c0c0c0"/>
<rect x="695" y="587" width="3" height="17" fill="#c0c0c0"/>
<rect x="703" y="587" width="3" height="18" fill="#c0c0c0"/>
<rect x="711" y="587" width="3" height="20" fill="#c0c0c0"/>
<rect x="719" y="587" width="3" height="21" fill="#c0c0c0"/>
<rect x="727" y="587" width="3" height="20" fill="#c0c0c0"/>
<rect x="735" y="587" width="3" height="20" fill="#c0c0c0"/>
<rect x="743" y="587" width="3" height="20" fill="#c0c0c0"/>
<rect x="751" y="587" width="3" height="19" fill="#c0c0c0"/>
<rect x="759" y="587" width="3" height="16" fill="#c0c0c0"/>
<rect x="767" y="587" width="3" height="14" fill="#c0c0c0"/>
<rect x="775" y="587" width="3" height="12" fill="#c0c0c0"/>
<rect x="783" y="587" width="3" height="13" fill="#c0c0c0"/>
<rect x="791" y="587" width="3" height="14" fill="#c0c0c0"/>
<rect x="799" y="587" width="3" height="14" fill="#c0c0c0"/>
<rect x="807" y="587" width="3" height="14" fill="#c0c0c0"/>
<rect x="815" y="587" width="3" height="15" fill="#c0c0c0"/>
<rect x="823" y="587" width="3" height="18" fill="#c0c0c0"/>
<rect x="831" y="587" width="3" height="22" fill="#c0c0c0"/>
<rect x="839" y="587" width="3" height="24" fill="#c0c0c0"/>
<rect x="847" y="587" width="3" height="25" fill="#c0c0c0"/>
<rect x="855" y="587" width="3" height="25" fill="#c0c0c0"/>
<rect x="863" y="587" width="3" height="24" fill="#c0c0c0"/>
<rect x="871" y="587" width="3" height="20" fill="#c0c0c0"/>
<rect x="879" y="587" width="3" height="16" fill="#c0c0c0"/>
<rect x="887" y="587" width="3" height="13" fill="#c0c0c0"/>
<rect x="895" y="587" width="3" height="9" fill="#c0c0c0"/>
<rect x="903" y="587" width="3" height="8" fill="#c0c0c0"/>
<rect x="911" y="587" width="3" height="8" fill="#c0c0c0"/>
</g>
<path d="M620 553h14v1h-14zM612 554h8v1h-8zM634 554h4v1h-4zM604 555h8v1h-8zM638 555h4v1h-4zM598 556h6v1h-6zM642 556h4v1h-4zM594 557h4v1h-4zM646 557h4v1h-4zM590 558h4v1h-4zM650 558h2v1h-2zM586 559h4v1h-4zM652 559h3v1h-3zM582 560h4v1h-4zM655 560h3v1h-3zM578 561h4v1h-4zM658 561h2v1h-2zM574 562h4v1h-4zM660 562h3v1h-3zM570 563h4v1h-4zM663 563h2v1h-2zM564 564h6v1h-6zM665 564h2v1h-2zM558 565h6v1h-6zM667 565h1v1h-1zM554 566h4v1h-4zM668 566h2v1h-2zM548 567h6v1h-6zM670 567h2v1h-2zM532 568h16v1h-16zM672 568h1v1h-1zM492 569h40v1h-40zM673 569h2v1h-2zM396 570h24v1h-24zM436 570h16v1h-16zM476 570h16v1h-16zM675 570h1v1h-1zM316 571h48v1h-48zM380 571h16v1h-16zM420 571h16v1h-16zM452 571h24v1h-24zM676 571h2v1h-2zM300 572h16v1h-16zM364 572h16v1h-16zM678 572h2v1h-2zM284 573h16v1h-16zM680 573h1v1h-1zM220 574h24v1h-24zM268 574h16v1h-16zM681 574h2v1h-2zM188 575h32v1h-32zM244 575h24v1h-24zM683 575h1v1h-1zM180 576h8v1h-8zM684 576h2v1h-2zM172 577h8v1h-8zM686 577h2v1h-2zM164 578h8v1h-8zM688 578h1v1h-1zM156 579h8v1h-8zM689 579h1v1h-1zM150 580h6v1h-6zM690 580h2v1h-2zM146 581h4v1h-4zM692 581h1v1h-1zM134 582h12v1h-12zM693 582h1v1h-1zM130 583h4v1h-4zM694 583h2v1h-2zM126 584h4v1h-4zM696 584h1v1h-1zM122 585h4v1h-4zM697 585h2v1h-2zM116 586h6v1h-6zM699 586h1v1h-1zM110 587h6v1h-6zM700 587h2v1h-2zM106 588h4v1h-4zM702 588h2v1h-2zM102 589h4v1h-4zM704 589h1v1h-1zM98 590h4v1h-4zM705 590h2v1h-2zM92 591h6v1h-6zM707 591h2v1h-2zM86 592h6v1h-6zM709 592h2v1h-2zM82 593h4v1h-4zM711 593h2v1h-2zM78 594h4v1h-4zM713 594h2v1h-2zM74 595h4v1h-4zM715 595h2v1h-2zM68 596h6v1h-6zM717 596h2v1h-2zM62 597h6v1h-6zM719 597h3v1h-3zM58 598h4v1h-4zM722 598h2v1h-2zM52 599h6v1h-6zM724 599h3v1h-3zM46 600h6v1h-6zM727 600h3v1h-3zM812 600h16v1h-16zM42 601h4v1h-4zM730 601h2v1h-2zM804 601h8v1h-8zM828 601h8v1h-8zM0 602h42v1h-42zM732 602h3v1h-3zM788 602h16v1h-16zM836 602h6v1h-6zM910 602h3v1h-3zM735 603h5v1h-5zM780 603h8v1h-8zM842 603h4v1h-4zM906 603h4v1h-4zM740 604h8v1h-8zM772 604h8v1h-8zM846 604h6v1h-6zM902 604h4v1h-4zM748 605h24v1h-24zM852 605h8v1h-8zM898 605h4v1h-4zM860 606h8v1h-8zM892 606h6v1h-6zM868 607h24v1h-24z" fill="#ff0000" shape-rendering="crispEdges"/>
</g>
<text x="12.5" y="560" font-size="10" fill="#000" text-rendering="geometricPrecision" stroke="#000" stroke-width="0.12" textLength="153.5" lengthAdjust="spacingAndGlyphs">MACD(12,26,9) -0.001905 -0.004140</text>
<text x="1162.2" y="558" font-size="10" fill="#000" text-rendering="geometricPrecision" stroke="#000" stroke-width="0.12" textLength="37.5" lengthAdjust="spacingAndGlyphs">0.010525</text>
<text x="1162.2" y="591" font-size="10" fill="#000" text-rendering="geometricPrecision" stroke="#000" stroke-width="0.12" textLength="17.8" lengthAdjust="spacingAndGlyphs">0.00</text>
<text x="1162.2" y="611" font-size="10" fill="#000" text-rendering="geometricPrecision" stroke="#000" stroke-width="0.12" textLength="31" lengthAdjust="spacingAndGlyphs">-0.0073</text>
<rect x="1159" y="547" width="2" height="1" fill="#000"/>
<rect x="1159" y="587" width="2" height="1" fill="#000"/>
<rect x="1159" y="614" width="2" height="1" fill="#000"/>
<rect x="8" y="615" width="1" height="3" fill="#000" shape-rendering="crispEdges"/>
<text x="7.5" y="627" font-size="10" fill="#000" text-rendering="geometricPrecision" stroke="#000" stroke-width="0.12" textLength="45.7" lengthAdjust="spacingAndGlyphs">4 Oct 2018</text>
<rect x="72" y="615" width="1" height="3" fill="#000" shape-rendering="crispEdges"/>
<text x="71.5" y="627" font-size="10" fill="#000" text-rendering="geometricPrecision" stroke="#000" stroke-width="0.12" textLength="51" lengthAdjust="spacingAndGlyphs">13 Oct 2018</text>
<rect x="136" y="615" width="1" height="3" fill="#000" shape-rendering="crispEdges"/>
<text x="135.5" y="627" font-size="10" fill="#000" text-rendering="geometricPrecision" stroke="#000" stroke-width="0.12" textLength="51" lengthAdjust="spacingAndGlyphs">23 Oct 2018</text>
<rect x="200" y="615" width="1" height="3" fill="#000" shape-rendering="crispEdges"/>
<text x="199.5" y="627" font-size="10" fill="#000" text-rendering="geometricPrecision" stroke="#000" stroke-width="0.12" textLength="48" lengthAdjust="spacingAndGlyphs">1 Nov 2018</text>
<rect x="264" y="615" width="1" height="3" fill="#000" shape-rendering="crispEdges"/>
<text x="263.5" y="627" font-size="10" fill="#000" text-rendering="geometricPrecision" stroke="#000" stroke-width="0.12" textLength="53" lengthAdjust="spacingAndGlyphs">10 Nov 2018</text>
<rect x="328" y="615" width="1" height="3" fill="#000" shape-rendering="crispEdges"/>
<text x="327.5" y="627" font-size="10" fill="#000" text-rendering="geometricPrecision" stroke="#000" stroke-width="0.12" textLength="53.5" lengthAdjust="spacingAndGlyphs">20 Nov 2018</text>
<rect x="392" y="615" width="1" height="3" fill="#000" shape-rendering="crispEdges"/>
<text x="391.5" y="627" font-size="10" fill="#000" text-rendering="geometricPrecision" stroke="#000" stroke-width="0.12" textLength="53.5" lengthAdjust="spacingAndGlyphs">29 Nov 2018</text>
<rect x="456" y="615" width="1" height="3" fill="#000" shape-rendering="crispEdges"/>
<text x="455.5" y="627" font-size="10" fill="#000" text-rendering="geometricPrecision" stroke="#000" stroke-width="0.12" textLength="46" lengthAdjust="spacingAndGlyphs">8 Dec 2018</text>
<rect x="520" y="615" width="1" height="3" fill="#000" shape-rendering="crispEdges"/>
<text x="519.5" y="627" font-size="10" fill="#000" text-rendering="geometricPrecision" stroke="#000" stroke-width="0.12" textLength="51" lengthAdjust="spacingAndGlyphs">18 Dec 2018</text>
<rect x="584" y="615" width="1" height="3" fill="#000" shape-rendering="crispEdges"/>
<text x="583.5" y="627" font-size="10" fill="#000" text-rendering="geometricPrecision" stroke="#000" stroke-width="0.12" textLength="51" lengthAdjust="spacingAndGlyphs">27 Dec 2018</text>
<rect x="648" y="615" width="1" height="3" fill="#000" shape-rendering="crispEdges"/>
<text x="647.5" y="627" font-size="10" fill="#000" text-rendering="geometricPrecision" stroke="#000" stroke-width="0.12" textLength="44" lengthAdjust="spacingAndGlyphs">5 Jan 2019</text>
<rect x="712" y="615" width="1" height="3" fill="#000" shape-rendering="crispEdges"/>
<text x="711.5" y="627" font-size="10" fill="#000" text-rendering="geometricPrecision" stroke="#000" stroke-width="0.12" textLength="49" lengthAdjust="spacingAndGlyphs">15 Jan 2019</text>
<rect x="776" y="615" width="1" height="3" fill="#000" shape-rendering="crispEdges"/>
<text x="775.5" y="627" font-size="10" fill="#000" text-rendering="geometricPrecision" stroke="#000" stroke-width="0.12" textLength="50" lengthAdjust="spacingAndGlyphs">24 Jan 2019</text>
<rect x="840" y="615" width="1" height="3" fill="#000" shape-rendering="crispEdges"/>
<text x="839.5" y="627" font-size="10" fill="#000" text-rendering="geometricPrecision" stroke="#000" stroke-width="0.12" textLength="46" lengthAdjust="spacingAndGlyphs">2 Feb 2019</text>
<rect x="904" y="615" width="1" height="3" fill="#000" shape-rendering="crispEdges"/>
<text x="903.5" y="627" font-size="10" fill="#000" text-rendering="geometricPrecision" stroke="#000" stroke-width="0.12" textLength="52" lengthAdjust="spacingAndGlyphs">12 Feb 2019</text>
<g shape-rendering="crispEdges">
<rect x="3" y="637" width="1203" height="1" fill="#000"/>
<rect x="5" y="638" width="1199" height="19" fill="#f0f0f0"/>
<rect x="1204" y="638" width="1" height="19" fill="#e3e3e3"/>
<rect x="0" y="657" width="1206" height="1" fill="#ffffff"/>
<rect x="0" y="661" width="1204" height="1" fill="#a0a0a0"/>
<rect x="306" y="637" width="102" height="18" fill="#ffffff"/>
<rect x="305" y="637" width="1" height="19" fill="#000"/>
<rect x="408" y="637" width="1" height="19" fill="#000"/>
<rect x="305" y="655" width="104" height="1" fill="#000"/>
<rect x="101" y="640" width="1" height="14" fill="#5a5a5a"/>
<rect x="205" y="640" width="1" height="14" fill="#5a5a5a"/>
<rect x="513" y="640" width="1" height="14" fill="#5a5a5a"/>
<rect x="597" y="640" width="1" height="14" fill="#5a5a5a"/>
<rect x="689" y="640" width="1" height="14" fill="#5a5a5a"/>
<rect x="789" y="640" width="1" height="14" fill="#5a5a5a"/>
<rect x="877" y="640" width="1" height="14" fill="#5a5a5a"/>
<rect x="981" y="640" width="1" height="14" fill="#5a5a5a"/>
<rect x="1049" y="640" width="1" height="14" fill="#5a5a5a"/>
<rect x="1141" y="640" width="1" height="14" fill="#5a5a5a"/>
</g>
<text x="21.0" y="651.5" font-size="12.5" fill="#6d6d6d" textLength="68.5" lengthAdjust="spacingAndGlyphs">EURUSD,H4</text>
<text x="111.7" y="651.5" font-size="12.5" fill="#6d6d6d" textLength="82.2" lengthAdjust="spacingAndGlyphs">AUDUSD,Daily</text>
<text x="215.0" y="651.5" font-size="12.5" fill="#6d6d6d" textLength="79.5" lengthAdjust="spacingAndGlyphs">USDCHF,Daily</text>
<text x="315.9" y="651.5" font-size="12.5" fill="#000" textLength="81.6" lengthAdjust="spacingAndGlyphs">USDCAD,Daily</text>
<text x="418.5" y="651.5" font-size="12.5" fill="#6d6d6d" textLength="84" lengthAdjust="spacingAndGlyphs">USDCNH,Daily</text>
<text x="522.8" y="651.5" font-size="12.5" fill="#6d6d6d" textLength="63.4" lengthAdjust="spacingAndGlyphs">USDJPY,H4</text>
<text x="607.7" y="651.5" font-size="12.5" fill="#6d6d6d" textLength="70.0" lengthAdjust="spacingAndGlyphs">XAUUSD,H4</text>
<text x="700.1" y="651.5" font-size="12.5" fill="#6d6d6d" textLength="78.6" lengthAdjust="spacingAndGlyphs">GBPUSD,M30</text>
<text x="800.5" y="651.5" font-size="12.5" fill="#6d6d6d" textLength="64" lengthAdjust="spacingAndGlyphs">SP500,M15</text>
<text x="889.1" y="651.5" font-size="12.5" fill="#6d6d6d" textLength="80.1" lengthAdjust="spacingAndGlyphs">GBPUSD,Daily</text>
<text x="990.5" y="651.5" font-size="12.5" fill="#6d6d6d" textLength="48" lengthAdjust="spacingAndGlyphs">DJ30,H4</text>
<text x="1058.8" y="651.5" font-size="12.5" fill="#6d6d6d" textLength="71.4" lengthAdjust="spacingAndGlyphs">TECH100,H1</text>
<defs><clipPath id="cuk"><rect x="1000" y="630" width="168.5" height="30"/></clipPath></defs><g clip-path="url(#cuk)">
<text x="1152.5" y="651.5" font-size="12.5" fill="#6d6d6d" textLength="17" lengthAdjust="spacingAndGlyphs">UK</text>
</g>
<path d="M1177.5,643 L1173.5,646 L1177.5,649 Z" fill="#a0a0a0"/>
<path d="M1193,643 L1196.5,646 L1193,649.5 Z" fill="#000"/>
<defs>
<linearGradient id="gtab" x1="0" y1="0" x2="0" y2="1"><stop offset="0" stop-color="#ff5a5a"/><stop offset="1" stop-color="#e23636"/></linearGradient>
<linearGradient id="gbox" x1="0" y1="0" x2="0" y2="1"><stop offset="0" stop-color="#e63636"/><stop offset="1" stop-color="#b00606"/></linearGradient>
<linearGradient id="gbtn" x1="0" y1="0" x2="0" y2="1"><stop offset="0" stop-color="#f2f2f2"/><stop offset="0.33" stop-color="#ececec"/><stop offset="0.34" stop-color="#dadada"/><stop offset="1" stop-color="#d4d4d4"/></linearGradient>
</defs>
<g shape-rendering="crispEdges">
<rect x="11" y="52" width="52" height="25" fill="#b00000"/>
<rect x="12" y="53" width="50" height="23" fill="url(#gtab)"/>
<rect x="11" y="76" width="109" height="40" fill="#b00000"/>
<rect x="12" y="77" width="107" height="38" fill="url(#gbox)"/>
<rect x="12" y="76" width="50" height="1" fill="url(#gtab)"/>
<rect x="15" y="75" width="44" height="1" fill="#8b0000"/>
<rect x="15" y="76" width="44" height="1" fill="#f26a6a"/>
<rect x="178" y="52" width="52" height="25" fill="#b00000"/>
<rect x="179" y="53" width="50" height="23" fill="url(#gtab)"/>
<rect x="122" y="76" width="108" height="40" fill="#b00000"/>
<rect x="123" y="77" width="106" height="38" fill="url(#gbox)"/>
<rect x="179" y="76" width="50" height="1" fill="url(#gtab)"/>
<rect x="182" y="75" width="44" height="1" fill="#8b0000"/>
<rect x="182" y="76" width="44" height="1" fill="#f26a6a"/>
<rect x="63" y="51" width="115" height="25" fill="#ffffff"/>
<rect x="65" y="52" width="111" height="22" fill="#a4a8b0"/>
<rect x="66" y="53" width="109" height="20" fill="#ffffff"/>
<rect x="86" y="53" width="1" height="20" fill="#a4a8b0"/>
<rect x="154" y="53" width="1" height="20" fill="#a4a8b0"/>
<rect x="67" y="54" width="18" height="18" fill="url(#gbtn)"/>
<rect x="156" y="54" width="18" height="18" fill="url(#gbtn)"/>
</g>
<path d="M72.8,60.8 L78.2,60.8 L75.5,64 Z" fill="#4b5fb8"/>
<path d="M162,64 L167,64 L164.5,60.8 Z" fill="#4b5fb8"/>
<text x="126.5" y="67" font-size="12.5" fill="#000" textLength="24.5" lengthAdjust="spacingAndGlyphs">0.01</text>
<text x="23" y="68" font-size="12.5" fill="#fff" textLength="26.5" lengthAdjust="spacingAndGlyphs">SELL</text>
<text x="191" y="68" font-size="12.5" fill="#fff" textLength="23.5" lengthAdjust="spacingAndGlyphs">BUY</text>
<text x="30.8" y="107" font-size="12" fill="#fff" textLength="25" lengthAdjust="spacingAndGlyphs" font-weight="bold">1.32</text>
<text x="58.2" y="107" font-size="35" fill="#fff" textLength="36.5" lengthAdjust="spacingAndGlyphs">10</text>
<text x="97.5" y="91" font-size="11" fill="#fff" textLength="7.2" lengthAdjust="spacingAndGlyphs" font-weight="bold">8</text>
<text x="141.5" y="107" font-size="12" fill="#fff" textLength="23" lengthAdjust="spacingAndGlyphs" font-weight="bold">1.32</text>
<text x="169.3" y="107" font-size="35" fill="#fff" textLength="35.5" lengthAdjust="spacingAndGlyphs">13</text>
<text x="209.5" y="91" font-size="11" fill="#fff" textLength="6" lengthAdjust="spacingAndGlyphs" font-weight="bold">1</text></svg>
</body></html>
